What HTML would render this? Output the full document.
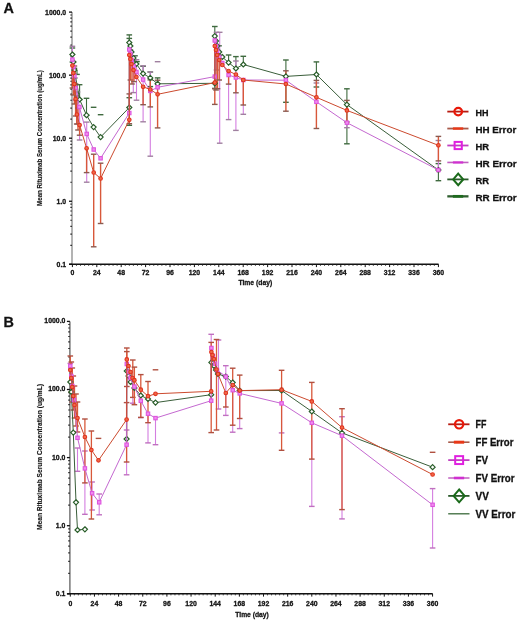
<!DOCTYPE html><html><head><meta charset="utf-8"><style>html,body{margin:0;padding:0;background:#fff;}svg{display:block;filter:blur(0.3px);} text{stroke:#111;stroke-width:0.28px;}</style></head><body>
<svg width="520" height="620" viewBox="0 0 520 620" font-family='"Liberation Sans", sans-serif' fill="#111">
<rect width="520" height="620" fill="#fff"/>
<text x="3.6" y="12.8" font-size="14.4" font-weight="bold">A</text>
<line x1="72" y1="12.1" x2="72" y2="264.3" stroke="#8a8a8a" stroke-width="1.3"/>
<line x1="69.2" y1="264.3" x2="438.6" y2="264.3" stroke="#111" stroke-width="1.5"/>
<line x1="69" y1="12.1" x2="72" y2="12.1" stroke="#111" stroke-width="1.3"/>
<text x="66.2" y="14.5" font-size="6.9" font-weight="bold" text-anchor="end">1000.0</text>
<line x1="70.4" y1="56.17" x2="71.8" y2="56.17" stroke="#111" stroke-width="1.2"/>
<line x1="70.4" y1="45.07" x2="71.8" y2="45.07" stroke="#111" stroke-width="1.2"/>
<line x1="70.4" y1="37.19" x2="71.8" y2="37.19" stroke="#111" stroke-width="1.2"/>
<line x1="70.4" y1="31.08" x2="71.8" y2="31.08" stroke="#111" stroke-width="1.2"/>
<line x1="70.4" y1="26.09" x2="71.8" y2="26.09" stroke="#111" stroke-width="1.2"/>
<line x1="70.4" y1="21.87" x2="71.8" y2="21.87" stroke="#111" stroke-width="1.2"/>
<line x1="70.4" y1="18.21" x2="71.8" y2="18.21" stroke="#111" stroke-width="1.2"/>
<line x1="70.4" y1="14.99" x2="71.8" y2="14.99" stroke="#111" stroke-width="1.2"/>
<line x1="69" y1="75.15" x2="72" y2="75.15" stroke="#111" stroke-width="1.3"/>
<text x="66.2" y="77.55" font-size="6.9" font-weight="bold" text-anchor="end">100.0</text>
<line x1="70.4" y1="119.22" x2="71.8" y2="119.22" stroke="#111" stroke-width="1.2"/>
<line x1="70.4" y1="108.12" x2="71.8" y2="108.12" stroke="#111" stroke-width="1.2"/>
<line x1="70.4" y1="100.24" x2="71.8" y2="100.24" stroke="#111" stroke-width="1.2"/>
<line x1="70.4" y1="94.13" x2="71.8" y2="94.13" stroke="#111" stroke-width="1.2"/>
<line x1="70.4" y1="89.14" x2="71.8" y2="89.14" stroke="#111" stroke-width="1.2"/>
<line x1="70.4" y1="84.92" x2="71.8" y2="84.92" stroke="#111" stroke-width="1.2"/>
<line x1="70.4" y1="81.26" x2="71.8" y2="81.26" stroke="#111" stroke-width="1.2"/>
<line x1="70.4" y1="78.04" x2="71.8" y2="78.04" stroke="#111" stroke-width="1.2"/>
<line x1="69" y1="138.2" x2="72" y2="138.2" stroke="#111" stroke-width="1.3"/>
<text x="66.2" y="140.6" font-size="6.9" font-weight="bold" text-anchor="end">10.0</text>
<line x1="70.4" y1="182.27" x2="71.8" y2="182.27" stroke="#111" stroke-width="1.2"/>
<line x1="70.4" y1="171.17" x2="71.8" y2="171.17" stroke="#111" stroke-width="1.2"/>
<line x1="70.4" y1="163.29" x2="71.8" y2="163.29" stroke="#111" stroke-width="1.2"/>
<line x1="70.4" y1="157.18" x2="71.8" y2="157.18" stroke="#111" stroke-width="1.2"/>
<line x1="70.4" y1="152.19" x2="71.8" y2="152.19" stroke="#111" stroke-width="1.2"/>
<line x1="70.4" y1="147.97" x2="71.8" y2="147.97" stroke="#111" stroke-width="1.2"/>
<line x1="70.4" y1="144.31" x2="71.8" y2="144.31" stroke="#111" stroke-width="1.2"/>
<line x1="70.4" y1="141.09" x2="71.8" y2="141.09" stroke="#111" stroke-width="1.2"/>
<line x1="69" y1="201.25" x2="72" y2="201.25" stroke="#111" stroke-width="1.3"/>
<text x="66.2" y="203.65" font-size="6.9" font-weight="bold" text-anchor="end">1.0</text>
<line x1="70.4" y1="245.32" x2="71.8" y2="245.32" stroke="#111" stroke-width="1.2"/>
<line x1="70.4" y1="234.22" x2="71.8" y2="234.22" stroke="#111" stroke-width="1.2"/>
<line x1="70.4" y1="226.34" x2="71.8" y2="226.34" stroke="#111" stroke-width="1.2"/>
<line x1="70.4" y1="220.23" x2="71.8" y2="220.23" stroke="#111" stroke-width="1.2"/>
<line x1="70.4" y1="215.24" x2="71.8" y2="215.24" stroke="#111" stroke-width="1.2"/>
<line x1="70.4" y1="211.02" x2="71.8" y2="211.02" stroke="#111" stroke-width="1.2"/>
<line x1="70.4" y1="207.36" x2="71.8" y2="207.36" stroke="#111" stroke-width="1.2"/>
<line x1="70.4" y1="204.14" x2="71.8" y2="204.14" stroke="#111" stroke-width="1.2"/>
<line x1="69" y1="264.3" x2="72" y2="264.3" stroke="#111" stroke-width="1.3"/>
<text x="66.2" y="266.7" font-size="6.9" font-weight="bold" text-anchor="end">0.1</text>
<line x1="72.4" y1="264.3" x2="72.4" y2="267.1" stroke="#111" stroke-width="1"/>
<text x="72.4" y="275.3" font-size="6.9" font-weight="bold" text-anchor="middle">0</text>
<line x1="76.47" y1="264.3" x2="76.47" y2="265.9" stroke="#222" stroke-width="0.8"/>
<line x1="80.53" y1="264.3" x2="80.53" y2="265.9" stroke="#222" stroke-width="0.8"/>
<line x1="84.6" y1="264.3" x2="84.6" y2="265.9" stroke="#222" stroke-width="0.8"/>
<line x1="88.67" y1="264.3" x2="88.67" y2="265.9" stroke="#222" stroke-width="0.8"/>
<line x1="92.73" y1="264.3" x2="92.73" y2="265.9" stroke="#222" stroke-width="0.8"/>
<line x1="96.8" y1="264.3" x2="96.8" y2="267.1" stroke="#111" stroke-width="1"/>
<text x="96.8" y="275.3" font-size="6.9" font-weight="bold" text-anchor="middle">24</text>
<line x1="100.87" y1="264.3" x2="100.87" y2="265.9" stroke="#222" stroke-width="0.8"/>
<line x1="104.93" y1="264.3" x2="104.93" y2="265.9" stroke="#222" stroke-width="0.8"/>
<line x1="109" y1="264.3" x2="109" y2="265.9" stroke="#222" stroke-width="0.8"/>
<line x1="113.07" y1="264.3" x2="113.07" y2="265.9" stroke="#222" stroke-width="0.8"/>
<line x1="117.13" y1="264.3" x2="117.13" y2="265.9" stroke="#222" stroke-width="0.8"/>
<line x1="121.2" y1="264.3" x2="121.2" y2="267.1" stroke="#111" stroke-width="1"/>
<text x="121.2" y="275.3" font-size="6.9" font-weight="bold" text-anchor="middle">48</text>
<line x1="125.27" y1="264.3" x2="125.27" y2="265.9" stroke="#222" stroke-width="0.8"/>
<line x1="129.34" y1="264.3" x2="129.34" y2="265.9" stroke="#222" stroke-width="0.8"/>
<line x1="133.4" y1="264.3" x2="133.4" y2="265.9" stroke="#222" stroke-width="0.8"/>
<line x1="137.47" y1="264.3" x2="137.47" y2="265.9" stroke="#222" stroke-width="0.8"/>
<line x1="141.54" y1="264.3" x2="141.54" y2="265.9" stroke="#222" stroke-width="0.8"/>
<line x1="145.6" y1="264.3" x2="145.6" y2="267.1" stroke="#111" stroke-width="1"/>
<text x="145.6" y="275.3" font-size="6.9" font-weight="bold" text-anchor="middle">72</text>
<line x1="149.67" y1="264.3" x2="149.67" y2="265.9" stroke="#222" stroke-width="0.8"/>
<line x1="153.74" y1="264.3" x2="153.74" y2="265.9" stroke="#222" stroke-width="0.8"/>
<line x1="157.8" y1="264.3" x2="157.8" y2="265.9" stroke="#222" stroke-width="0.8"/>
<line x1="161.87" y1="264.3" x2="161.87" y2="265.9" stroke="#222" stroke-width="0.8"/>
<line x1="165.94" y1="264.3" x2="165.94" y2="265.9" stroke="#222" stroke-width="0.8"/>
<line x1="170" y1="264.3" x2="170" y2="267.1" stroke="#111" stroke-width="1"/>
<text x="170" y="275.3" font-size="6.9" font-weight="bold" text-anchor="middle">96</text>
<line x1="174.07" y1="264.3" x2="174.07" y2="265.9" stroke="#222" stroke-width="0.8"/>
<line x1="178.14" y1="264.3" x2="178.14" y2="265.9" stroke="#222" stroke-width="0.8"/>
<line x1="182.2" y1="264.3" x2="182.2" y2="265.9" stroke="#222" stroke-width="0.8"/>
<line x1="186.27" y1="264.3" x2="186.27" y2="265.9" stroke="#222" stroke-width="0.8"/>
<line x1="190.34" y1="264.3" x2="190.34" y2="265.9" stroke="#222" stroke-width="0.8"/>
<line x1="194.4" y1="264.3" x2="194.4" y2="267.1" stroke="#111" stroke-width="1"/>
<text x="194.4" y="275.3" font-size="6.9" font-weight="bold" text-anchor="middle">120</text>
<line x1="198.47" y1="264.3" x2="198.47" y2="265.9" stroke="#222" stroke-width="0.8"/>
<line x1="202.54" y1="264.3" x2="202.54" y2="265.9" stroke="#222" stroke-width="0.8"/>
<line x1="206.6" y1="264.3" x2="206.6" y2="265.9" stroke="#222" stroke-width="0.8"/>
<line x1="210.67" y1="264.3" x2="210.67" y2="265.9" stroke="#222" stroke-width="0.8"/>
<line x1="214.74" y1="264.3" x2="214.74" y2="265.9" stroke="#222" stroke-width="0.8"/>
<line x1="218.8" y1="264.3" x2="218.8" y2="267.1" stroke="#111" stroke-width="1"/>
<text x="218.8" y="275.3" font-size="6.9" font-weight="bold" text-anchor="middle">144</text>
<line x1="222.87" y1="264.3" x2="222.87" y2="265.9" stroke="#222" stroke-width="0.8"/>
<line x1="226.94" y1="264.3" x2="226.94" y2="265.9" stroke="#222" stroke-width="0.8"/>
<line x1="231.01" y1="264.3" x2="231.01" y2="265.9" stroke="#222" stroke-width="0.8"/>
<line x1="235.07" y1="264.3" x2="235.07" y2="265.9" stroke="#222" stroke-width="0.8"/>
<line x1="239.14" y1="264.3" x2="239.14" y2="265.9" stroke="#222" stroke-width="0.8"/>
<line x1="243.21" y1="264.3" x2="243.21" y2="267.1" stroke="#111" stroke-width="1"/>
<text x="243.21" y="275.3" font-size="6.9" font-weight="bold" text-anchor="middle">168</text>
<line x1="247.27" y1="264.3" x2="247.27" y2="265.9" stroke="#222" stroke-width="0.8"/>
<line x1="251.34" y1="264.3" x2="251.34" y2="265.9" stroke="#222" stroke-width="0.8"/>
<line x1="255.41" y1="264.3" x2="255.41" y2="265.9" stroke="#222" stroke-width="0.8"/>
<line x1="259.47" y1="264.3" x2="259.47" y2="265.9" stroke="#222" stroke-width="0.8"/>
<line x1="263.54" y1="264.3" x2="263.54" y2="265.9" stroke="#222" stroke-width="0.8"/>
<line x1="267.61" y1="264.3" x2="267.61" y2="267.1" stroke="#111" stroke-width="1"/>
<text x="267.61" y="275.3" font-size="6.9" font-weight="bold" text-anchor="middle">192</text>
<line x1="271.67" y1="264.3" x2="271.67" y2="265.9" stroke="#222" stroke-width="0.8"/>
<line x1="275.74" y1="264.3" x2="275.74" y2="265.9" stroke="#222" stroke-width="0.8"/>
<line x1="279.81" y1="264.3" x2="279.81" y2="265.9" stroke="#222" stroke-width="0.8"/>
<line x1="283.87" y1="264.3" x2="283.87" y2="265.9" stroke="#222" stroke-width="0.8"/>
<line x1="287.94" y1="264.3" x2="287.94" y2="265.9" stroke="#222" stroke-width="0.8"/>
<line x1="292.01" y1="264.3" x2="292.01" y2="267.1" stroke="#111" stroke-width="1"/>
<text x="292.01" y="275.3" font-size="6.9" font-weight="bold" text-anchor="middle">216</text>
<line x1="296.07" y1="264.3" x2="296.07" y2="265.9" stroke="#222" stroke-width="0.8"/>
<line x1="300.14" y1="264.3" x2="300.14" y2="265.9" stroke="#222" stroke-width="0.8"/>
<line x1="304.21" y1="264.3" x2="304.21" y2="265.9" stroke="#222" stroke-width="0.8"/>
<line x1="308.27" y1="264.3" x2="308.27" y2="265.9" stroke="#222" stroke-width="0.8"/>
<line x1="312.34" y1="264.3" x2="312.34" y2="265.9" stroke="#222" stroke-width="0.8"/>
<line x1="316.41" y1="264.3" x2="316.41" y2="267.1" stroke="#111" stroke-width="1"/>
<text x="316.41" y="275.3" font-size="6.9" font-weight="bold" text-anchor="middle">240</text>
<line x1="320.47" y1="264.3" x2="320.47" y2="265.9" stroke="#222" stroke-width="0.8"/>
<line x1="324.54" y1="264.3" x2="324.54" y2="265.9" stroke="#222" stroke-width="0.8"/>
<line x1="328.61" y1="264.3" x2="328.61" y2="265.9" stroke="#222" stroke-width="0.8"/>
<line x1="332.68" y1="264.3" x2="332.68" y2="265.9" stroke="#222" stroke-width="0.8"/>
<line x1="336.74" y1="264.3" x2="336.74" y2="265.9" stroke="#222" stroke-width="0.8"/>
<line x1="340.81" y1="264.3" x2="340.81" y2="267.1" stroke="#111" stroke-width="1"/>
<text x="340.81" y="275.3" font-size="6.9" font-weight="bold" text-anchor="middle">264</text>
<line x1="344.88" y1="264.3" x2="344.88" y2="265.9" stroke="#222" stroke-width="0.8"/>
<line x1="348.94" y1="264.3" x2="348.94" y2="265.9" stroke="#222" stroke-width="0.8"/>
<line x1="353.01" y1="264.3" x2="353.01" y2="265.9" stroke="#222" stroke-width="0.8"/>
<line x1="357.08" y1="264.3" x2="357.08" y2="265.9" stroke="#222" stroke-width="0.8"/>
<line x1="361.14" y1="264.3" x2="361.14" y2="265.9" stroke="#222" stroke-width="0.8"/>
<line x1="365.21" y1="264.3" x2="365.21" y2="267.1" stroke="#111" stroke-width="1"/>
<text x="365.21" y="275.3" font-size="6.9" font-weight="bold" text-anchor="middle">288</text>
<line x1="369.28" y1="264.3" x2="369.28" y2="265.9" stroke="#222" stroke-width="0.8"/>
<line x1="373.34" y1="264.3" x2="373.34" y2="265.9" stroke="#222" stroke-width="0.8"/>
<line x1="377.41" y1="264.3" x2="377.41" y2="265.9" stroke="#222" stroke-width="0.8"/>
<line x1="381.48" y1="264.3" x2="381.48" y2="265.9" stroke="#222" stroke-width="0.8"/>
<line x1="385.54" y1="264.3" x2="385.54" y2="265.9" stroke="#222" stroke-width="0.8"/>
<line x1="389.61" y1="264.3" x2="389.61" y2="267.1" stroke="#111" stroke-width="1"/>
<text x="389.61" y="275.3" font-size="6.9" font-weight="bold" text-anchor="middle">312</text>
<line x1="393.68" y1="264.3" x2="393.68" y2="265.9" stroke="#222" stroke-width="0.8"/>
<line x1="397.74" y1="264.3" x2="397.74" y2="265.9" stroke="#222" stroke-width="0.8"/>
<line x1="401.81" y1="264.3" x2="401.81" y2="265.9" stroke="#222" stroke-width="0.8"/>
<line x1="405.88" y1="264.3" x2="405.88" y2="265.9" stroke="#222" stroke-width="0.8"/>
<line x1="409.94" y1="264.3" x2="409.94" y2="265.9" stroke="#222" stroke-width="0.8"/>
<line x1="414.01" y1="264.3" x2="414.01" y2="267.1" stroke="#111" stroke-width="1"/>
<text x="414.01" y="275.3" font-size="6.9" font-weight="bold" text-anchor="middle">336</text>
<line x1="418.08" y1="264.3" x2="418.08" y2="265.9" stroke="#222" stroke-width="0.8"/>
<line x1="422.14" y1="264.3" x2="422.14" y2="265.9" stroke="#222" stroke-width="0.8"/>
<line x1="426.21" y1="264.3" x2="426.21" y2="265.9" stroke="#222" stroke-width="0.8"/>
<line x1="430.28" y1="264.3" x2="430.28" y2="265.9" stroke="#222" stroke-width="0.8"/>
<line x1="434.35" y1="264.3" x2="434.35" y2="265.9" stroke="#222" stroke-width="0.8"/>
<line x1="438.41" y1="264.3" x2="438.41" y2="267.1" stroke="#111" stroke-width="1"/>
<text x="438.41" y="275.3" font-size="6.9" font-weight="bold" text-anchor="middle">360</text>
<text x="255.3" y="284.8" font-size="7.4" font-weight="bold" text-anchor="middle" textLength="33.8" lengthAdjust="spacingAndGlyphs">Time (day)</text>
<text transform="translate(42.1,138.1) rotate(-90)" font-size="6.6" font-weight="bold" style="stroke-width:0.12px" text-anchor="middle" textLength="135.6" lengthAdjust="spacingAndGlyphs">Mean Rituximab Serum Concentration (ug/mL)</text>
<line x1="72.4" y1="48" x2="72.4" y2="62" stroke="#3f6a3f" stroke-width="1.1" opacity="1"/>
<line x1="69.6" y1="48" x2="75.2" y2="48" stroke="#3f6a3f" stroke-width="1.4" opacity="1"/>
<line x1="69.6" y1="62" x2="75.2" y2="62" stroke="#3f6a3f" stroke-width="1.4" opacity="1"/>
<line x1="71.6" y1="68.3" x2="77.2" y2="68.3" stroke="#3f6a3f" stroke-width="1.4" opacity="1"/>
<line x1="77" y1="70" x2="77" y2="74.4" stroke="#3f6a3f" stroke-width="1.1" opacity="1"/>
<line x1="74.2" y1="74.4" x2="79.8" y2="74.4" stroke="#3f6a3f" stroke-width="1.4" opacity="1"/>
<line x1="79.6" y1="84.7" x2="79.6" y2="99.5" stroke="#3f6a3f" stroke-width="1.1" opacity="1"/>
<line x1="76.8" y1="84.7" x2="82.4" y2="84.7" stroke="#3f6a3f" stroke-width="1.4" opacity="1"/>
<line x1="76.8" y1="99.5" x2="82.4" y2="99.5" stroke="#3f6a3f" stroke-width="1.4" opacity="1"/>
<line x1="86.5" y1="98.3" x2="86.5" y2="115.2" stroke="#3f6a3f" stroke-width="1.1" opacity="1"/>
<line x1="83.7" y1="98.3" x2="89.3" y2="98.3" stroke="#3f6a3f" stroke-width="1.4" opacity="1"/>
<line x1="83.7" y1="115.2" x2="89.3" y2="115.2" stroke="#3f6a3f" stroke-width="1.4" opacity="1"/>
<line x1="90.8" y1="107.3" x2="96.4" y2="107.3" stroke="#3f6a3f" stroke-width="1.4" opacity="1"/>
<line x1="97.8" y1="114.7" x2="103.4" y2="114.7" stroke="#3f6a3f" stroke-width="1.4" opacity="1"/>
<line x1="129.3" y1="97.7" x2="129.3" y2="125.3" stroke="#3f6a3f" stroke-width="1.1" opacity="1"/>
<line x1="126.5" y1="97.7" x2="132.1" y2="97.7" stroke="#3f6a3f" stroke-width="1.4" opacity="1"/>
<line x1="126.5" y1="125.3" x2="132.1" y2="125.3" stroke="#3f6a3f" stroke-width="1.4" opacity="1"/>
<line x1="129.3" y1="34.9" x2="129.3" y2="42.6" stroke="#3f6a3f" stroke-width="1.1" opacity="1"/>
<line x1="126.5" y1="34.9" x2="132.1" y2="34.9" stroke="#3f6a3f" stroke-width="1.4" opacity="1"/>
<line x1="129.3" y1="38.4" x2="129.3" y2="42.6" stroke="#3f6a3f" stroke-width="1.1" opacity="1"/>
<line x1="126.5" y1="38.4" x2="132.1" y2="38.4" stroke="#3f6a3f" stroke-width="1.4" opacity="1"/>
<line x1="135" y1="55.8" x2="135" y2="64" stroke="#3f6a3f" stroke-width="1.1" opacity="1"/>
<line x1="132.2" y1="55.8" x2="137.8" y2="55.8" stroke="#3f6a3f" stroke-width="1.4" opacity="1"/>
<line x1="137" y1="61.6" x2="137" y2="64" stroke="#3f6a3f" stroke-width="1.1" opacity="1"/>
<line x1="134.2" y1="61.6" x2="139.8" y2="61.6" stroke="#3f6a3f" stroke-width="1.4" opacity="1"/>
<line x1="143.1" y1="66.3" x2="143.1" y2="73.6" stroke="#3f6a3f" stroke-width="1.1" opacity="1"/>
<line x1="140.3" y1="66.3" x2="145.9" y2="66.3" stroke="#3f6a3f" stroke-width="1.4" opacity="1"/>
<line x1="150.3" y1="72" x2="150.3" y2="86.6" stroke="#3f6a3f" stroke-width="1.1" opacity="1"/>
<line x1="147.5" y1="72" x2="153.1" y2="72" stroke="#3f6a3f" stroke-width="1.4" opacity="1"/>
<line x1="147.5" y1="86.6" x2="153.1" y2="86.6" stroke="#3f6a3f" stroke-width="1.4" opacity="1"/>
<line x1="157.6" y1="77.9" x2="157.6" y2="83.8" stroke="#3f6a3f" stroke-width="1.1" opacity="1"/>
<line x1="154.8" y1="77.9" x2="160.4" y2="77.9" stroke="#3f6a3f" stroke-width="1.4" opacity="1"/>
<line x1="214.8" y1="26.5" x2="214.8" y2="36.1" stroke="#3f6a3f" stroke-width="1.1" opacity="1"/>
<line x1="212" y1="26.5" x2="217.6" y2="26.5" stroke="#3f6a3f" stroke-width="1.4" opacity="1"/>
<line x1="214.8" y1="83.3" x2="214.8" y2="88.4" stroke="#3f6a3f" stroke-width="1.1" opacity="1"/>
<line x1="212" y1="88.4" x2="217.6" y2="88.4" stroke="#3f6a3f" stroke-width="1.4" opacity="1"/>
<line x1="219" y1="45.8" x2="219" y2="52" stroke="#3f6a3f" stroke-width="1.1" opacity="1"/>
<line x1="216.2" y1="45.8" x2="221.8" y2="45.8" stroke="#3f6a3f" stroke-width="1.4" opacity="1"/>
<line x1="228.6" y1="55" x2="228.6" y2="62.6" stroke="#3f6a3f" stroke-width="1.1" opacity="1"/>
<line x1="225.8" y1="55" x2="231.4" y2="55" stroke="#3f6a3f" stroke-width="1.4" opacity="1"/>
<line x1="235.9" y1="56.6" x2="235.9" y2="68.5" stroke="#3f6a3f" stroke-width="1.1" opacity="1"/>
<line x1="233.1" y1="56.6" x2="238.7" y2="56.6" stroke="#3f6a3f" stroke-width="1.4" opacity="1"/>
<line x1="243.3" y1="56.3" x2="243.3" y2="64.5" stroke="#3f6a3f" stroke-width="1.1" opacity="1"/>
<line x1="240.5" y1="56.3" x2="246.1" y2="56.3" stroke="#3f6a3f" stroke-width="1.4" opacity="1"/>
<line x1="285.9" y1="60" x2="285.9" y2="102.3" stroke="#3f6a3f" stroke-width="1.1" opacity="1"/>
<line x1="283.1" y1="60" x2="288.7" y2="60" stroke="#3f6a3f" stroke-width="1.4" opacity="1"/>
<line x1="283.1" y1="102.3" x2="288.7" y2="102.3" stroke="#3f6a3f" stroke-width="1.4" opacity="1"/>
<line x1="316.4" y1="61.9" x2="316.4" y2="87" stroke="#3f6a3f" stroke-width="1.1" opacity="1"/>
<line x1="313.6" y1="61.9" x2="319.2" y2="61.9" stroke="#3f6a3f" stroke-width="1.4" opacity="1"/>
<line x1="313.6" y1="87" x2="319.2" y2="87" stroke="#3f6a3f" stroke-width="1.4" opacity="1"/>
<line x1="346.9" y1="88.8" x2="346.9" y2="143.8" stroke="#3f6a3f" stroke-width="1.1" opacity="1"/>
<line x1="344.1" y1="88.8" x2="349.7" y2="88.8" stroke="#3f6a3f" stroke-width="1.4" opacity="1"/>
<line x1="344.1" y1="143.8" x2="349.7" y2="143.8" stroke="#3f6a3f" stroke-width="1.4" opacity="1"/>
<line x1="438.4" y1="163.6" x2="438.4" y2="180.7" stroke="#3f6a3f" stroke-width="1.1" opacity="1"/>
<line x1="435.6" y1="163.6" x2="441.2" y2="163.6" stroke="#3f6a3f" stroke-width="1.4" opacity="1"/>
<line x1="435.6" y1="180.7" x2="441.2" y2="180.7" stroke="#3f6a3f" stroke-width="1.4" opacity="1"/>
<line x1="72.4" y1="46.3" x2="72.4" y2="59.6" stroke="#d47ee0" stroke-width="1.1" opacity="1"/>
<line x1="69.6" y1="46.3" x2="75.2" y2="46.3" stroke="#a080a0" stroke-width="1.4" opacity="1"/>
<line x1="75" y1="78" x2="75" y2="100" stroke="#d47ee0" stroke-width="1.1" opacity="1"/>
<line x1="72.2" y1="78" x2="77.8" y2="78" stroke="#a080a0" stroke-width="1.4" opacity="1"/>
<line x1="72.2" y1="100" x2="77.8" y2="100" stroke="#a080a0" stroke-width="1.4" opacity="1"/>
<line x1="77.5" y1="92" x2="77.5" y2="124" stroke="#d47ee0" stroke-width="1.1" opacity="1"/>
<line x1="74.7" y1="92" x2="80.3" y2="92" stroke="#a080a0" stroke-width="1.4" opacity="1"/>
<line x1="74.7" y1="124" x2="80.3" y2="124" stroke="#a080a0" stroke-width="1.4" opacity="1"/>
<line x1="79.6" y1="107" x2="79.6" y2="140" stroke="#d47ee0" stroke-width="1.1" opacity="1"/>
<line x1="76.8" y1="140" x2="82.4" y2="140" stroke="#a080a0" stroke-width="1.4" opacity="1"/>
<line x1="86.7" y1="122.1" x2="86.7" y2="182.2" stroke="#d47ee0" stroke-width="1.1" opacity="1"/>
<line x1="83.9" y1="122.1" x2="89.5" y2="122.1" stroke="#a080a0" stroke-width="1.4" opacity="1"/>
<line x1="83.9" y1="182.2" x2="89.5" y2="182.2" stroke="#a080a0" stroke-width="1.4" opacity="1"/>
<line x1="133.3" y1="56.5" x2="133.3" y2="92.6" stroke="#d47ee0" stroke-width="1.1" opacity="1"/>
<line x1="130.5" y1="56.5" x2="136.1" y2="56.5" stroke="#a080a0" stroke-width="1.4" opacity="1"/>
<line x1="130.5" y1="92.6" x2="136.1" y2="92.6" stroke="#a080a0" stroke-width="1.4" opacity="1"/>
<line x1="136.5" y1="59.7" x2="136.5" y2="100.2" stroke="#d47ee0" stroke-width="1.1" opacity="1"/>
<line x1="133.7" y1="59.7" x2="139.3" y2="59.7" stroke="#a080a0" stroke-width="1.4" opacity="1"/>
<line x1="133.7" y1="100.2" x2="139.3" y2="100.2" stroke="#a080a0" stroke-width="1.4" opacity="1"/>
<line x1="143.1" y1="65.8" x2="143.1" y2="121.8" stroke="#d47ee0" stroke-width="1.1" opacity="1"/>
<line x1="140.3" y1="65.8" x2="145.9" y2="65.8" stroke="#a080a0" stroke-width="1.4" opacity="1"/>
<line x1="140.3" y1="121.8" x2="145.9" y2="121.8" stroke="#a080a0" stroke-width="1.4" opacity="1"/>
<line x1="150.3" y1="72" x2="150.3" y2="156.2" stroke="#d47ee0" stroke-width="1.1" opacity="1"/>
<line x1="147.5" y1="72" x2="153.1" y2="72" stroke="#a080a0" stroke-width="1.4" opacity="1"/>
<line x1="147.5" y1="156.2" x2="153.1" y2="156.2" stroke="#a080a0" stroke-width="1.4" opacity="1"/>
<line x1="154.8" y1="61.7" x2="160.4" y2="61.7" stroke="#a080a0" stroke-width="1.4" opacity="1"/>
<line x1="216.5" y1="32.3" x2="216.5" y2="70" stroke="#d47ee0" stroke-width="1.1" opacity="1"/>
<line x1="213.7" y1="32.3" x2="219.3" y2="32.3" stroke="#a080a0" stroke-width="1.4" opacity="1"/>
<line x1="213.7" y1="70" x2="219.3" y2="70" stroke="#a080a0" stroke-width="1.4" opacity="1"/>
<line x1="219.7" y1="32.3" x2="219.7" y2="143.2" stroke="#d47ee0" stroke-width="1.1" opacity="1"/>
<line x1="216.9" y1="32.3" x2="222.5" y2="32.3" stroke="#a080a0" stroke-width="1.4" opacity="1"/>
<line x1="216.9" y1="143.2" x2="222.5" y2="143.2" stroke="#a080a0" stroke-width="1.4" opacity="1"/>
<line x1="228.6" y1="75" x2="228.6" y2="119.6" stroke="#d47ee0" stroke-width="1.1" opacity="1"/>
<line x1="225.8" y1="119.6" x2="231.4" y2="119.6" stroke="#a080a0" stroke-width="1.4" opacity="1"/>
<line x1="235.9" y1="61" x2="235.9" y2="130.4" stroke="#d47ee0" stroke-width="1.1" opacity="1"/>
<line x1="233.1" y1="61" x2="238.7" y2="61" stroke="#a080a0" stroke-width="1.4" opacity="1"/>
<line x1="233.1" y1="130.4" x2="238.7" y2="130.4" stroke="#a080a0" stroke-width="1.4" opacity="1"/>
<line x1="243.3" y1="80" x2="243.3" y2="114.3" stroke="#d47ee0" stroke-width="1.1" opacity="1"/>
<line x1="240.5" y1="114.3" x2="246.1" y2="114.3" stroke="#a080a0" stroke-width="1.4" opacity="1"/>
<line x1="316.4" y1="83" x2="316.4" y2="101.8" stroke="#d47ee0" stroke-width="1.1" opacity="1"/>
<line x1="313.6" y1="83" x2="319.2" y2="83" stroke="#a080a0" stroke-width="1.4" opacity="1"/>
<line x1="346.9" y1="122.7" x2="346.9" y2="127.7" stroke="#d47ee0" stroke-width="1.1" opacity="1"/>
<line x1="344.1" y1="127.7" x2="349.7" y2="127.7" stroke="#a080a0" stroke-width="1.4" opacity="1"/>
<line x1="438.4" y1="140.5" x2="438.4" y2="170" stroke="#d47ee0" stroke-width="1.1" opacity="1"/>
<line x1="435.6" y1="140.5" x2="441.2" y2="140.5" stroke="#a080a0" stroke-width="1.4" opacity="1"/>
<line x1="72.4" y1="65.5" x2="72.4" y2="88" stroke="#d8583a" stroke-width="1.4" opacity="1"/>
<line x1="69.6" y1="88" x2="75.2" y2="88" stroke="#8a5a50" stroke-width="1.4" opacity="1"/>
<line x1="73.4" y1="62" x2="73.4" y2="95" stroke="#d8583a" stroke-width="1.4" opacity="1"/>
<line x1="70.6" y1="62" x2="76.2" y2="62" stroke="#8a5a50" stroke-width="1.4" opacity="1"/>
<line x1="70.6" y1="95" x2="76.2" y2="95" stroke="#8a5a50" stroke-width="1.4" opacity="1"/>
<line x1="74.4" y1="66" x2="74.4" y2="104" stroke="#d8583a" stroke-width="1.4" opacity="1"/>
<line x1="71.6" y1="66" x2="77.2" y2="66" stroke="#8a5a50" stroke-width="1.4" opacity="1"/>
<line x1="71.6" y1="104" x2="77.2" y2="104" stroke="#8a5a50" stroke-width="1.4" opacity="1"/>
<line x1="75.6" y1="84" x2="75.6" y2="116" stroke="#d8583a" stroke-width="1.4" opacity="1"/>
<line x1="72.8" y1="84" x2="78.4" y2="84" stroke="#8a5a50" stroke-width="1.4" opacity="1"/>
<line x1="72.8" y1="116" x2="78.4" y2="116" stroke="#8a5a50" stroke-width="1.4" opacity="1"/>
<line x1="76.7" y1="96" x2="76.7" y2="124" stroke="#d8583a" stroke-width="1.4" opacity="1"/>
<line x1="73.9" y1="96" x2="79.5" y2="96" stroke="#8a5a50" stroke-width="1.4" opacity="1"/>
<line x1="73.9" y1="124" x2="79.5" y2="124" stroke="#8a5a50" stroke-width="1.4" opacity="1"/>
<line x1="78" y1="108" x2="78" y2="130" stroke="#d8583a" stroke-width="1.4" opacity="1"/>
<line x1="75.2" y1="108" x2="80.8" y2="108" stroke="#8a5a50" stroke-width="1.4" opacity="1"/>
<line x1="75.2" y1="130" x2="80.8" y2="130" stroke="#8a5a50" stroke-width="1.4" opacity="1"/>
<line x1="79.6" y1="125" x2="79.6" y2="135.2" stroke="#d8583a" stroke-width="1.4" opacity="1"/>
<line x1="76.8" y1="135.2" x2="82.4" y2="135.2" stroke="#8a5a50" stroke-width="1.4" opacity="1"/>
<line x1="86.6" y1="148.3" x2="86.6" y2="172.6" stroke="#d8583a" stroke-width="1.4" opacity="1"/>
<line x1="83.8" y1="172.6" x2="89.4" y2="172.6" stroke="#8a5a50" stroke-width="1.4" opacity="1"/>
<line x1="93.7" y1="154.2" x2="93.7" y2="246.8" stroke="#d8583a" stroke-width="1.4" opacity="1"/>
<line x1="90.9" y1="154.2" x2="96.5" y2="154.2" stroke="#8a5a50" stroke-width="1.4" opacity="1"/>
<line x1="90.9" y1="246.8" x2="96.5" y2="246.8" stroke="#8a5a50" stroke-width="1.4" opacity="1"/>
<line x1="100.6" y1="163.2" x2="100.6" y2="223.5" stroke="#d8583a" stroke-width="1.4" opacity="1"/>
<line x1="97.8" y1="163.2" x2="103.4" y2="163.2" stroke="#8a5a50" stroke-width="1.4" opacity="1"/>
<line x1="97.8" y1="223.5" x2="103.4" y2="223.5" stroke="#8a5a50" stroke-width="1.4" opacity="1"/>
<line x1="129.3" y1="93.9" x2="129.3" y2="123.7" stroke="#d8583a" stroke-width="1.4" opacity="1"/>
<line x1="126.5" y1="93.9" x2="132.1" y2="93.9" stroke="#8a5a50" stroke-width="1.4" opacity="1"/>
<line x1="126.5" y1="123.7" x2="132.1" y2="123.7" stroke="#8a5a50" stroke-width="1.4" opacity="1"/>
<line x1="130.4" y1="50" x2="130.4" y2="80" stroke="#d8583a" stroke-width="1.4" opacity="1"/>
<line x1="127.6" y1="50" x2="133.2" y2="50" stroke="#8a5a50" stroke-width="1.4" opacity="1"/>
<line x1="127.6" y1="80" x2="133.2" y2="80" stroke="#8a5a50" stroke-width="1.4" opacity="1"/>
<line x1="132" y1="58" x2="132" y2="84" stroke="#d8583a" stroke-width="1.4" opacity="1"/>
<line x1="129.2" y1="58" x2="134.8" y2="58" stroke="#8a5a50" stroke-width="1.4" opacity="1"/>
<line x1="129.2" y1="84" x2="134.8" y2="84" stroke="#8a5a50" stroke-width="1.4" opacity="1"/>
<line x1="134" y1="70" x2="134" y2="81.6" stroke="#d8583a" stroke-width="1.4" opacity="1"/>
<line x1="131.2" y1="81.6" x2="136.8" y2="81.6" stroke="#8a5a50" stroke-width="1.4" opacity="1"/>
<line x1="143.1" y1="86.8" x2="143.1" y2="104.7" stroke="#d8583a" stroke-width="1.4" opacity="1"/>
<line x1="140.3" y1="104.7" x2="145.9" y2="104.7" stroke="#8a5a50" stroke-width="1.4" opacity="1"/>
<line x1="150.3" y1="79.9" x2="150.3" y2="106.9" stroke="#d8583a" stroke-width="1.4" opacity="1"/>
<line x1="147.5" y1="79.9" x2="153.1" y2="79.9" stroke="#8a5a50" stroke-width="1.4" opacity="1"/>
<line x1="147.5" y1="106.9" x2="153.1" y2="106.9" stroke="#8a5a50" stroke-width="1.4" opacity="1"/>
<line x1="157.6" y1="80.2" x2="157.6" y2="127.9" stroke="#d8583a" stroke-width="1.4" opacity="1"/>
<line x1="154.8" y1="80.2" x2="160.4" y2="80.2" stroke="#8a5a50" stroke-width="1.4" opacity="1"/>
<line x1="154.8" y1="127.9" x2="160.4" y2="127.9" stroke="#8a5a50" stroke-width="1.4" opacity="1"/>
<line x1="214.8" y1="88.7" x2="214.8" y2="104.4" stroke="#d8583a" stroke-width="1.4" opacity="1"/>
<line x1="212" y1="88.7" x2="217.6" y2="88.7" stroke="#8a5a50" stroke-width="1.4" opacity="1"/>
<line x1="212" y1="104.4" x2="217.6" y2="104.4" stroke="#8a5a50" stroke-width="1.4" opacity="1"/>
<line x1="216" y1="45" x2="216" y2="90" stroke="#d8583a" stroke-width="1.4" opacity="1"/>
<line x1="213.2" y1="45" x2="218.8" y2="45" stroke="#8a5a50" stroke-width="1.4" opacity="1"/>
<line x1="213.2" y1="90" x2="218.8" y2="90" stroke="#8a5a50" stroke-width="1.4" opacity="1"/>
<line x1="217.5" y1="52" x2="217.5" y2="88.7" stroke="#d8583a" stroke-width="1.4" opacity="1"/>
<line x1="214.7" y1="52" x2="220.3" y2="52" stroke="#8a5a50" stroke-width="1.4" opacity="1"/>
<line x1="214.7" y1="88.7" x2="220.3" y2="88.7" stroke="#8a5a50" stroke-width="1.4" opacity="1"/>
<line x1="219.2" y1="56" x2="219.2" y2="80" stroke="#d8583a" stroke-width="1.4" opacity="1"/>
<line x1="216.4" y1="56" x2="222" y2="56" stroke="#8a5a50" stroke-width="1.4" opacity="1"/>
<line x1="216.4" y1="80" x2="222" y2="80" stroke="#8a5a50" stroke-width="1.4" opacity="1"/>
<line x1="228.6" y1="71" x2="228.6" y2="84.1" stroke="#d8583a" stroke-width="1.4" opacity="1"/>
<line x1="225.8" y1="84.1" x2="231.4" y2="84.1" stroke="#8a5a50" stroke-width="1.4" opacity="1"/>
<line x1="235.9" y1="74.5" x2="235.9" y2="92.8" stroke="#d8583a" stroke-width="1.4" opacity="1"/>
<line x1="233.1" y1="92.8" x2="238.7" y2="92.8" stroke="#8a5a50" stroke-width="1.4" opacity="1"/>
<line x1="243.3" y1="80" x2="243.3" y2="105" stroke="#d8583a" stroke-width="1.4" opacity="1"/>
<line x1="240.5" y1="105" x2="246.1" y2="105" stroke="#8a5a50" stroke-width="1.4" opacity="1"/>
<line x1="285.9" y1="70.8" x2="285.9" y2="111.2" stroke="#d8583a" stroke-width="1.4" opacity="1"/>
<line x1="283.1" y1="70.8" x2="288.7" y2="70.8" stroke="#8a5a50" stroke-width="1.4" opacity="1"/>
<line x1="283.1" y1="111.2" x2="288.7" y2="111.2" stroke="#8a5a50" stroke-width="1.4" opacity="1"/>
<line x1="316.4" y1="80.4" x2="316.4" y2="128.5" stroke="#d8583a" stroke-width="1.4" opacity="1"/>
<line x1="313.6" y1="80.4" x2="319.2" y2="80.4" stroke="#8a5a50" stroke-width="1.4" opacity="1"/>
<line x1="313.6" y1="128.5" x2="319.2" y2="128.5" stroke="#8a5a50" stroke-width="1.4" opacity="1"/>
<line x1="346.9" y1="100.4" x2="346.9" y2="122" stroke="#d8583a" stroke-width="1.4" opacity="1"/>
<line x1="344.1" y1="100.4" x2="349.7" y2="100.4" stroke="#8a5a50" stroke-width="1.4" opacity="1"/>
<line x1="344.1" y1="122" x2="349.7" y2="122" stroke="#8a5a50" stroke-width="1.4" opacity="1"/>
<line x1="438.4" y1="136.4" x2="438.4" y2="160.9" stroke="#d8583a" stroke-width="1.4" opacity="1"/>
<line x1="435.6" y1="136.4" x2="441.2" y2="136.4" stroke="#8a5a50" stroke-width="1.4" opacity="1"/>
<line x1="435.6" y1="160.9" x2="441.2" y2="160.9" stroke="#8a5a50" stroke-width="1.4" opacity="1"/>
<path d="M72.4 54.5 L73.4 62 L74.4 70 L79.6 99.5 L86.5 115.2 L93.6 127.1 L100.6 137.1 L129.3 107.5 L129.3 42.6 L130.4 46 L131.5 52 L133.5 58 L136.4 64 L143.1 73.6 L150.3 77.9 L157.6 83.8 L214.8 83.3 L214.8 36.1 L216 41 L217.2 46 L219.2 52 L222.3 57 L228.6 62.6 L235.9 68.5 L243.3 64.5 L285.9 76.4 L316.4 74.5 L346.9 104.6 L438.4 170" fill="none" stroke="#3a5e3a" stroke-width="1.0"/>
<path d="M72.4 51.98 L74.92 54.5 L72.4 57.02 L69.88 54.5 Z" fill="#fff" stroke="#2a5e2a" stroke-width="1.2"/>
<path d="M73.4 59.48 L75.92 62 L73.4 64.52 L70.88 62 Z" fill="#fff" stroke="#2a5e2a" stroke-width="1.2"/>
<path d="M74.4 67.48 L76.92 70 L74.4 72.52 L71.88 70 Z" fill="#fff" stroke="#2a5e2a" stroke-width="1.2"/>
<path d="M79.6 96.98 L82.12 99.5 L79.6 102.02 L77.08 99.5 Z" fill="#fff" stroke="#2a5e2a" stroke-width="1.2"/>
<path d="M86.5 112.68 L89.02 115.2 L86.5 117.72 L83.98 115.2 Z" fill="#fff" stroke="#2a5e2a" stroke-width="1.2"/>
<path d="M93.6 124.58 L96.12 127.1 L93.6 129.62 L91.08 127.1 Z" fill="#fff" stroke="#2a5e2a" stroke-width="1.2"/>
<path d="M100.6 134.58 L103.12 137.1 L100.6 139.62 L98.08 137.1 Z" fill="#fff" stroke="#2a5e2a" stroke-width="1.2"/>
<path d="M129.3 104.98 L131.82 107.5 L129.3 110.02 L126.78 107.5 Z" fill="#fff" stroke="#2a5e2a" stroke-width="1.2"/>
<path d="M129.3 40.08 L131.82 42.6 L129.3 45.12 L126.78 42.6 Z" fill="#fff" stroke="#2a5e2a" stroke-width="1.2"/>
<path d="M130.4 43.48 L132.92 46 L130.4 48.52 L127.88 46 Z" fill="#fff" stroke="#2a5e2a" stroke-width="1.2"/>
<path d="M131.5 49.48 L134.02 52 L131.5 54.52 L128.98 52 Z" fill="#fff" stroke="#2a5e2a" stroke-width="1.2"/>
<path d="M133.5 55.48 L136.02 58 L133.5 60.52 L130.98 58 Z" fill="#fff" stroke="#2a5e2a" stroke-width="1.2"/>
<path d="M136.4 61.48 L138.92 64 L136.4 66.52 L133.88 64 Z" fill="#fff" stroke="#2a5e2a" stroke-width="1.2"/>
<path d="M143.1 71.08 L145.62 73.6 L143.1 76.12 L140.58 73.6 Z" fill="#fff" stroke="#2a5e2a" stroke-width="1.2"/>
<path d="M150.3 75.38 L152.82 77.9 L150.3 80.42 L147.78 77.9 Z" fill="#fff" stroke="#2a5e2a" stroke-width="1.2"/>
<path d="M157.6 81.28 L160.12 83.8 L157.6 86.32 L155.08 83.8 Z" fill="#fff" stroke="#2a5e2a" stroke-width="1.2"/>
<path d="M214.8 80.78 L217.32 83.3 L214.8 85.82 L212.28 83.3 Z" fill="#fff" stroke="#2a5e2a" stroke-width="1.2"/>
<path d="M214.8 33.58 L217.32 36.1 L214.8 38.62 L212.28 36.1 Z" fill="#fff" stroke="#2a5e2a" stroke-width="1.2"/>
<path d="M216 38.48 L218.52 41 L216 43.52 L213.48 41 Z" fill="#fff" stroke="#2a5e2a" stroke-width="1.2"/>
<path d="M217.2 43.48 L219.72 46 L217.2 48.52 L214.68 46 Z" fill="#fff" stroke="#2a5e2a" stroke-width="1.2"/>
<path d="M219.2 49.48 L221.72 52 L219.2 54.52 L216.68 52 Z" fill="#fff" stroke="#2a5e2a" stroke-width="1.2"/>
<path d="M222.3 54.48 L224.82 57 L222.3 59.52 L219.78 57 Z" fill="#fff" stroke="#2a5e2a" stroke-width="1.2"/>
<path d="M228.6 60.08 L231.12 62.6 L228.6 65.12 L226.08 62.6 Z" fill="#fff" stroke="#2a5e2a" stroke-width="1.2"/>
<path d="M235.9 65.98 L238.42 68.5 L235.9 71.02 L233.38 68.5 Z" fill="#fff" stroke="#2a5e2a" stroke-width="1.2"/>
<path d="M243.3 61.98 L245.82 64.5 L243.3 67.02 L240.78 64.5 Z" fill="#fff" stroke="#2a5e2a" stroke-width="1.2"/>
<path d="M285.9 73.88 L288.42 76.4 L285.9 78.92 L283.38 76.4 Z" fill="#fff" stroke="#2a5e2a" stroke-width="1.2"/>
<path d="M316.4 71.98 L318.92 74.5 L316.4 77.02 L313.88 74.5 Z" fill="#fff" stroke="#2a5e2a" stroke-width="1.2"/>
<path d="M346.9 102.08 L349.42 104.6 L346.9 107.12 L344.38 104.6 Z" fill="#fff" stroke="#2a5e2a" stroke-width="1.2"/>
<path d="M438.4 167.48 L440.92 170 L438.4 172.52 L435.88 170 Z" fill="#fff" stroke="#2a5e2a" stroke-width="1.2"/>
<path d="M72.4 59.6 L73.4 67 L74.4 76 L75.6 88 L79.4 107 L86.7 133.9 L93.7 149.5 L100.6 158.3 L129.3 113 L129.3 49.5 L130.4 54 L131.5 60 L133.5 66 L136.4 72 L143.1 79.6 L150.3 90.9 L157.6 87.3 L214.8 76.6 L214.8 40.5 L216 46 L217.2 51 L219.2 57 L222.3 63 L228.6 75 L235.9 77.5 L243.3 80 L285.9 80.2 L316.4 101.8 L346.9 122.7 L438.4 170" fill="none" stroke="#c468d0" stroke-width="1.0"/>
<rect x="70.7" y="57.9" width="3.4" height="3.4" fill="#f08cf0" stroke="#dd55dd" stroke-width="1.1"/>
<rect x="71.7" y="65.3" width="3.4" height="3.4" fill="#f08cf0" stroke="#dd55dd" stroke-width="1.1"/>
<rect x="72.7" y="74.3" width="3.4" height="3.4" fill="#f08cf0" stroke="#dd55dd" stroke-width="1.1"/>
<rect x="73.9" y="86.3" width="3.4" height="3.4" fill="#f08cf0" stroke="#dd55dd" stroke-width="1.1"/>
<rect x="77.7" y="105.3" width="3.4" height="3.4" fill="#f08cf0" stroke="#dd55dd" stroke-width="1.1"/>
<rect x="85" y="132.2" width="3.4" height="3.4" fill="#f08cf0" stroke="#dd55dd" stroke-width="1.1"/>
<rect x="92" y="147.8" width="3.4" height="3.4" fill="#f08cf0" stroke="#dd55dd" stroke-width="1.1"/>
<rect x="98.9" y="156.6" width="3.4" height="3.4" fill="#f08cf0" stroke="#dd55dd" stroke-width="1.1"/>
<rect x="127.6" y="111.3" width="3.4" height="3.4" fill="#f08cf0" stroke="#dd55dd" stroke-width="1.1"/>
<rect x="127.6" y="47.8" width="3.4" height="3.4" fill="#f08cf0" stroke="#dd55dd" stroke-width="1.1"/>
<rect x="128.7" y="52.3" width="3.4" height="3.4" fill="#f08cf0" stroke="#dd55dd" stroke-width="1.1"/>
<rect x="129.8" y="58.3" width="3.4" height="3.4" fill="#f08cf0" stroke="#dd55dd" stroke-width="1.1"/>
<rect x="131.8" y="64.3" width="3.4" height="3.4" fill="#f08cf0" stroke="#dd55dd" stroke-width="1.1"/>
<rect x="134.7" y="70.3" width="3.4" height="3.4" fill="#f08cf0" stroke="#dd55dd" stroke-width="1.1"/>
<rect x="141.4" y="77.9" width="3.4" height="3.4" fill="#f08cf0" stroke="#dd55dd" stroke-width="1.1"/>
<rect x="148.6" y="89.2" width="3.4" height="3.4" fill="#f08cf0" stroke="#dd55dd" stroke-width="1.1"/>
<rect x="155.9" y="85.6" width="3.4" height="3.4" fill="#f08cf0" stroke="#dd55dd" stroke-width="1.1"/>
<rect x="213.1" y="74.9" width="3.4" height="3.4" fill="#f08cf0" stroke="#dd55dd" stroke-width="1.1"/>
<rect x="213.1" y="38.8" width="3.4" height="3.4" fill="#f08cf0" stroke="#dd55dd" stroke-width="1.1"/>
<rect x="214.3" y="44.3" width="3.4" height="3.4" fill="#f08cf0" stroke="#dd55dd" stroke-width="1.1"/>
<rect x="215.5" y="49.3" width="3.4" height="3.4" fill="#f08cf0" stroke="#dd55dd" stroke-width="1.1"/>
<rect x="217.5" y="55.3" width="3.4" height="3.4" fill="#f08cf0" stroke="#dd55dd" stroke-width="1.1"/>
<rect x="220.6" y="61.3" width="3.4" height="3.4" fill="#f08cf0" stroke="#dd55dd" stroke-width="1.1"/>
<rect x="226.9" y="73.3" width="3.4" height="3.4" fill="#f08cf0" stroke="#dd55dd" stroke-width="1.1"/>
<rect x="234.2" y="75.8" width="3.4" height="3.4" fill="#f08cf0" stroke="#dd55dd" stroke-width="1.1"/>
<rect x="241.6" y="78.3" width="3.4" height="3.4" fill="#f08cf0" stroke="#dd55dd" stroke-width="1.1"/>
<rect x="284.2" y="78.5" width="3.4" height="3.4" fill="#f08cf0" stroke="#dd55dd" stroke-width="1.1"/>
<rect x="314.7" y="100.1" width="3.4" height="3.4" fill="#f08cf0" stroke="#dd55dd" stroke-width="1.1"/>
<rect x="345.2" y="121" width="3.4" height="3.4" fill="#f08cf0" stroke="#dd55dd" stroke-width="1.1"/>
<rect x="436.7" y="168.3" width="3.4" height="3.4" fill="#f08cf0" stroke="#dd55dd" stroke-width="1.1"/>
<path d="M72.4 65.5 L73.4 73 L74.4 84 L75.6 99 L76.9 114.5 L79.6 125 L86.6 148.3 L93.7 172.5 L100.6 178.5 L129.3 119.8 L129.3 55 L130.4 59 L131.5 64 L133.5 70 L136.4 77 L143.1 86.8 L150.3 89.5 L157.6 94.3 L214.8 82.6 L214.8 46 L216 50 L217.2 55 L219.2 60 L222.3 65 L228.6 71 L235.9 74.5 L243.3 80 L285.9 84 L316.4 97.3 L346.9 110.4 L438.4 145.3" fill="none" stroke="#cc4a2e" stroke-width="1.0"/>
<circle cx="72.4" cy="65.5" r="1.8" fill="#f06a48" stroke="#e0321e" stroke-width="1.1"/>
<circle cx="73.4" cy="73" r="1.8" fill="#f06a48" stroke="#e0321e" stroke-width="1.1"/>
<circle cx="74.4" cy="84" r="1.8" fill="#f06a48" stroke="#e0321e" stroke-width="1.1"/>
<circle cx="75.6" cy="99" r="1.8" fill="#f06a48" stroke="#e0321e" stroke-width="1.1"/>
<circle cx="76.9" cy="114.5" r="1.8" fill="#f06a48" stroke="#e0321e" stroke-width="1.1"/>
<circle cx="79.6" cy="125" r="1.8" fill="#f06a48" stroke="#e0321e" stroke-width="1.1"/>
<circle cx="86.6" cy="148.3" r="1.8" fill="#f06a48" stroke="#e0321e" stroke-width="1.1"/>
<circle cx="93.7" cy="172.5" r="1.8" fill="#f06a48" stroke="#e0321e" stroke-width="1.1"/>
<circle cx="100.6" cy="178.5" r="1.8" fill="#f06a48" stroke="#e0321e" stroke-width="1.1"/>
<circle cx="129.3" cy="119.8" r="1.8" fill="#f06a48" stroke="#e0321e" stroke-width="1.1"/>
<circle cx="129.3" cy="55" r="1.8" fill="#f06a48" stroke="#e0321e" stroke-width="1.1"/>
<circle cx="130.4" cy="59" r="1.8" fill="#f06a48" stroke="#e0321e" stroke-width="1.1"/>
<circle cx="131.5" cy="64" r="1.8" fill="#f06a48" stroke="#e0321e" stroke-width="1.1"/>
<circle cx="133.5" cy="70" r="1.8" fill="#f06a48" stroke="#e0321e" stroke-width="1.1"/>
<circle cx="136.4" cy="77" r="1.8" fill="#f06a48" stroke="#e0321e" stroke-width="1.1"/>
<circle cx="143.1" cy="86.8" r="1.8" fill="#f06a48" stroke="#e0321e" stroke-width="1.1"/>
<circle cx="150.3" cy="89.5" r="1.8" fill="#f06a48" stroke="#e0321e" stroke-width="1.1"/>
<circle cx="157.6" cy="94.3" r="1.8" fill="#f06a48" stroke="#e0321e" stroke-width="1.1"/>
<circle cx="214.8" cy="82.6" r="1.8" fill="#f06a48" stroke="#e0321e" stroke-width="1.1"/>
<circle cx="214.8" cy="46" r="1.8" fill="#f06a48" stroke="#e0321e" stroke-width="1.1"/>
<circle cx="216" cy="50" r="1.8" fill="#f06a48" stroke="#e0321e" stroke-width="1.1"/>
<circle cx="217.2" cy="55" r="1.8" fill="#f06a48" stroke="#e0321e" stroke-width="1.1"/>
<circle cx="219.2" cy="60" r="1.8" fill="#f06a48" stroke="#e0321e" stroke-width="1.1"/>
<circle cx="222.3" cy="65" r="1.8" fill="#f06a48" stroke="#e0321e" stroke-width="1.1"/>
<circle cx="228.6" cy="71" r="1.8" fill="#f06a48" stroke="#e0321e" stroke-width="1.1"/>
<circle cx="235.9" cy="74.5" r="1.8" fill="#f06a48" stroke="#e0321e" stroke-width="1.1"/>
<circle cx="243.3" cy="80" r="1.8" fill="#f06a48" stroke="#e0321e" stroke-width="1.1"/>
<circle cx="285.9" cy="84" r="1.8" fill="#f06a48" stroke="#e0321e" stroke-width="1.1"/>
<circle cx="316.4" cy="97.3" r="1.8" fill="#f06a48" stroke="#e0321e" stroke-width="1.1"/>
<circle cx="346.9" cy="110.4" r="1.8" fill="#f06a48" stroke="#e0321e" stroke-width="1.1"/>
<circle cx="438.4" cy="145.3" r="1.8" fill="#f06a48" stroke="#e0321e" stroke-width="1.1"/>
<line x1="447.3" y1="111.6" x2="468.5" y2="111.6" stroke="#b81a10" stroke-width="1.8"/>
<circle cx="458.2" cy="111.6" r="3.8" fill="none" stroke="#e81808" stroke-width="2.2"/>
<text x="475.4" y="115.64" font-size="9.6" font-weight="bold" textLength="13" lengthAdjust="spacingAndGlyphs">HH</text>
<line x1="447.3" y1="128.55" x2="468.5" y2="128.55" stroke="#a85a4a" stroke-width="1.8"/>
<line x1="452.9" y1="128.55" x2="463.2" y2="128.55" stroke="#e83818" stroke-width="2.4"/>
<text x="475.4" y="132.79" font-size="9.6" font-weight="bold" textLength="40.8" lengthAdjust="spacingAndGlyphs">HH Error</text>
<line x1="447.3" y1="145.5" x2="468.5" y2="145.5" stroke="#c040c0" stroke-width="1.8"/>
<rect x="454.6" y="141.9" width="7.2" height="7.2" fill="none" stroke="#e020e0" stroke-width="2"/>
<text x="475.4" y="149.94" font-size="9.6" font-weight="bold" textLength="13.6" lengthAdjust="spacingAndGlyphs">HR</text>
<line x1="447.3" y1="162.45" x2="468.5" y2="162.45" stroke="#c060c0" stroke-width="1.6"/>
<line x1="452.9" y1="162.45" x2="463.2" y2="162.45" stroke="#d030d0" stroke-width="2.2"/>
<text x="475.4" y="167.09" font-size="9.6" font-weight="bold" textLength="41.2" lengthAdjust="spacingAndGlyphs">HR Error</text>
<line x1="447.3" y1="179.4" x2="468.5" y2="179.4" stroke="#2a5a2a" stroke-width="1.8"/>
<path d="M458.2 173.6 L463.2 179.4 L458.2 185.2 L453.2 179.4 Z" fill="none" stroke="#1a6a1a" stroke-width="2"/>
<text x="475.4" y="184.24" font-size="9.6" font-weight="bold" textLength="13.6" lengthAdjust="spacingAndGlyphs">RR</text>
<line x1="447.3" y1="196.35" x2="468.5" y2="196.35" stroke="#2f5f2f" stroke-width="2.3"/>
<line x1="452.9" y1="196.35" x2="463.2" y2="196.35" stroke="#1f6a1f" stroke-width="2.8"/>
<text x="475.4" y="201.39" font-size="9.6" font-weight="bold" textLength="41.2" lengthAdjust="spacingAndGlyphs">RR Error</text>
<text x="3.6" y="326.6" font-size="14.4" font-weight="bold">B</text>
<line x1="69.9" y1="321.4" x2="69.9" y2="593.8" stroke="#606060" stroke-width="1.3"/>
<line x1="67.1" y1="593.8" x2="432.7" y2="593.8" stroke="#111" stroke-width="1.5"/>
<line x1="66.9" y1="321.4" x2="69.9" y2="321.4" stroke="#111" stroke-width="1.3"/>
<text x="65.4" y="323.3" font-size="6.9" font-weight="bold" text-anchor="end">1000.0</text>
<line x1="68.3" y1="369" x2="69.7" y2="369" stroke="#111" stroke-width="1.2"/>
<line x1="68.3" y1="357.01" x2="69.7" y2="357.01" stroke="#111" stroke-width="1.2"/>
<line x1="68.3" y1="348.5" x2="69.7" y2="348.5" stroke="#111" stroke-width="1.2"/>
<line x1="68.3" y1="341.9" x2="69.7" y2="341.9" stroke="#111" stroke-width="1.2"/>
<line x1="68.3" y1="336.51" x2="69.7" y2="336.51" stroke="#111" stroke-width="1.2"/>
<line x1="68.3" y1="331.95" x2="69.7" y2="331.95" stroke="#111" stroke-width="1.2"/>
<line x1="68.3" y1="328" x2="69.7" y2="328" stroke="#111" stroke-width="1.2"/>
<line x1="68.3" y1="324.52" x2="69.7" y2="324.52" stroke="#111" stroke-width="1.2"/>
<line x1="66.9" y1="389.5" x2="69.9" y2="389.5" stroke="#111" stroke-width="1.3"/>
<text x="65.4" y="391.4" font-size="6.9" font-weight="bold" text-anchor="end">100.0</text>
<line x1="68.3" y1="437.1" x2="69.7" y2="437.1" stroke="#111" stroke-width="1.2"/>
<line x1="68.3" y1="425.11" x2="69.7" y2="425.11" stroke="#111" stroke-width="1.2"/>
<line x1="68.3" y1="416.6" x2="69.7" y2="416.6" stroke="#111" stroke-width="1.2"/>
<line x1="68.3" y1="410" x2="69.7" y2="410" stroke="#111" stroke-width="1.2"/>
<line x1="68.3" y1="404.61" x2="69.7" y2="404.61" stroke="#111" stroke-width="1.2"/>
<line x1="68.3" y1="400.05" x2="69.7" y2="400.05" stroke="#111" stroke-width="1.2"/>
<line x1="68.3" y1="396.1" x2="69.7" y2="396.1" stroke="#111" stroke-width="1.2"/>
<line x1="68.3" y1="392.62" x2="69.7" y2="392.62" stroke="#111" stroke-width="1.2"/>
<line x1="66.9" y1="457.6" x2="69.9" y2="457.6" stroke="#111" stroke-width="1.3"/>
<text x="65.4" y="459.5" font-size="6.9" font-weight="bold" text-anchor="end">10.0</text>
<line x1="68.3" y1="505.2" x2="69.7" y2="505.2" stroke="#111" stroke-width="1.2"/>
<line x1="68.3" y1="493.21" x2="69.7" y2="493.21" stroke="#111" stroke-width="1.2"/>
<line x1="68.3" y1="484.7" x2="69.7" y2="484.7" stroke="#111" stroke-width="1.2"/>
<line x1="68.3" y1="478.1" x2="69.7" y2="478.1" stroke="#111" stroke-width="1.2"/>
<line x1="68.3" y1="472.71" x2="69.7" y2="472.71" stroke="#111" stroke-width="1.2"/>
<line x1="68.3" y1="468.15" x2="69.7" y2="468.15" stroke="#111" stroke-width="1.2"/>
<line x1="68.3" y1="464.2" x2="69.7" y2="464.2" stroke="#111" stroke-width="1.2"/>
<line x1="68.3" y1="460.72" x2="69.7" y2="460.72" stroke="#111" stroke-width="1.2"/>
<line x1="66.9" y1="525.7" x2="69.9" y2="525.7" stroke="#111" stroke-width="1.3"/>
<text x="65.4" y="527.6" font-size="6.9" font-weight="bold" text-anchor="end">1.0</text>
<line x1="68.3" y1="573.3" x2="69.7" y2="573.3" stroke="#111" stroke-width="1.2"/>
<line x1="68.3" y1="561.31" x2="69.7" y2="561.31" stroke="#111" stroke-width="1.2"/>
<line x1="68.3" y1="552.8" x2="69.7" y2="552.8" stroke="#111" stroke-width="1.2"/>
<line x1="68.3" y1="546.2" x2="69.7" y2="546.2" stroke="#111" stroke-width="1.2"/>
<line x1="68.3" y1="540.81" x2="69.7" y2="540.81" stroke="#111" stroke-width="1.2"/>
<line x1="68.3" y1="536.25" x2="69.7" y2="536.25" stroke="#111" stroke-width="1.2"/>
<line x1="68.3" y1="532.3" x2="69.7" y2="532.3" stroke="#111" stroke-width="1.2"/>
<line x1="68.3" y1="528.82" x2="69.7" y2="528.82" stroke="#111" stroke-width="1.2"/>
<line x1="66.9" y1="593.8" x2="69.9" y2="593.8" stroke="#111" stroke-width="1.3"/>
<text x="65.4" y="595.7" font-size="6.9" font-weight="bold" text-anchor="end">0.1</text>
<line x1="70.3" y1="593.8" x2="70.3" y2="596.6" stroke="#111" stroke-width="1"/>
<text x="70.3" y="605.7" font-size="6.9" font-weight="bold" text-anchor="middle">0</text>
<line x1="74.33" y1="593.8" x2="74.33" y2="595.4" stroke="#222" stroke-width="0.8"/>
<line x1="78.35" y1="593.8" x2="78.35" y2="595.4" stroke="#222" stroke-width="0.8"/>
<line x1="82.38" y1="593.8" x2="82.38" y2="595.4" stroke="#222" stroke-width="0.8"/>
<line x1="86.4" y1="593.8" x2="86.4" y2="595.4" stroke="#222" stroke-width="0.8"/>
<line x1="90.43" y1="593.8" x2="90.43" y2="595.4" stroke="#222" stroke-width="0.8"/>
<line x1="94.45" y1="593.8" x2="94.45" y2="596.6" stroke="#111" stroke-width="1"/>
<text x="94.45" y="605.7" font-size="6.9" font-weight="bold" text-anchor="middle">24</text>
<line x1="98.48" y1="593.8" x2="98.48" y2="595.4" stroke="#222" stroke-width="0.8"/>
<line x1="102.5" y1="593.8" x2="102.5" y2="595.4" stroke="#222" stroke-width="0.8"/>
<line x1="106.53" y1="593.8" x2="106.53" y2="595.4" stroke="#222" stroke-width="0.8"/>
<line x1="110.55" y1="593.8" x2="110.55" y2="595.4" stroke="#222" stroke-width="0.8"/>
<line x1="114.58" y1="593.8" x2="114.58" y2="595.4" stroke="#222" stroke-width="0.8"/>
<line x1="118.6" y1="593.8" x2="118.6" y2="596.6" stroke="#111" stroke-width="1"/>
<text x="118.6" y="605.7" font-size="6.9" font-weight="bold" text-anchor="middle">48</text>
<line x1="122.63" y1="593.8" x2="122.63" y2="595.4" stroke="#222" stroke-width="0.8"/>
<line x1="126.65" y1="593.8" x2="126.65" y2="595.4" stroke="#222" stroke-width="0.8"/>
<line x1="130.68" y1="593.8" x2="130.68" y2="595.4" stroke="#222" stroke-width="0.8"/>
<line x1="134.7" y1="593.8" x2="134.7" y2="595.4" stroke="#222" stroke-width="0.8"/>
<line x1="138.73" y1="593.8" x2="138.73" y2="595.4" stroke="#222" stroke-width="0.8"/>
<line x1="142.75" y1="593.8" x2="142.75" y2="596.6" stroke="#111" stroke-width="1"/>
<text x="142.75" y="605.7" font-size="6.9" font-weight="bold" text-anchor="middle">72</text>
<line x1="146.78" y1="593.8" x2="146.78" y2="595.4" stroke="#222" stroke-width="0.8"/>
<line x1="150.8" y1="593.8" x2="150.8" y2="595.4" stroke="#222" stroke-width="0.8"/>
<line x1="154.83" y1="593.8" x2="154.83" y2="595.4" stroke="#222" stroke-width="0.8"/>
<line x1="158.85" y1="593.8" x2="158.85" y2="595.4" stroke="#222" stroke-width="0.8"/>
<line x1="162.88" y1="593.8" x2="162.88" y2="595.4" stroke="#222" stroke-width="0.8"/>
<line x1="166.9" y1="593.8" x2="166.9" y2="596.6" stroke="#111" stroke-width="1"/>
<text x="166.9" y="605.7" font-size="6.9" font-weight="bold" text-anchor="middle">96</text>
<line x1="170.93" y1="593.8" x2="170.93" y2="595.4" stroke="#222" stroke-width="0.8"/>
<line x1="174.96" y1="593.8" x2="174.96" y2="595.4" stroke="#222" stroke-width="0.8"/>
<line x1="178.98" y1="593.8" x2="178.98" y2="595.4" stroke="#222" stroke-width="0.8"/>
<line x1="183.01" y1="593.8" x2="183.01" y2="595.4" stroke="#222" stroke-width="0.8"/>
<line x1="187.03" y1="593.8" x2="187.03" y2="595.4" stroke="#222" stroke-width="0.8"/>
<line x1="191.06" y1="593.8" x2="191.06" y2="596.6" stroke="#111" stroke-width="1"/>
<text x="191.06" y="605.7" font-size="6.9" font-weight="bold" text-anchor="middle">120</text>
<line x1="195.08" y1="593.8" x2="195.08" y2="595.4" stroke="#222" stroke-width="0.8"/>
<line x1="199.11" y1="593.8" x2="199.11" y2="595.4" stroke="#222" stroke-width="0.8"/>
<line x1="203.13" y1="593.8" x2="203.13" y2="595.4" stroke="#222" stroke-width="0.8"/>
<line x1="207.16" y1="593.8" x2="207.16" y2="595.4" stroke="#222" stroke-width="0.8"/>
<line x1="211.18" y1="593.8" x2="211.18" y2="595.4" stroke="#222" stroke-width="0.8"/>
<line x1="215.21" y1="593.8" x2="215.21" y2="596.6" stroke="#111" stroke-width="1"/>
<text x="215.21" y="605.7" font-size="6.9" font-weight="bold" text-anchor="middle">144</text>
<line x1="219.23" y1="593.8" x2="219.23" y2="595.4" stroke="#222" stroke-width="0.8"/>
<line x1="223.26" y1="593.8" x2="223.26" y2="595.4" stroke="#222" stroke-width="0.8"/>
<line x1="227.28" y1="593.8" x2="227.28" y2="595.4" stroke="#222" stroke-width="0.8"/>
<line x1="231.31" y1="593.8" x2="231.31" y2="595.4" stroke="#222" stroke-width="0.8"/>
<line x1="235.33" y1="593.8" x2="235.33" y2="595.4" stroke="#222" stroke-width="0.8"/>
<line x1="239.36" y1="593.8" x2="239.36" y2="596.6" stroke="#111" stroke-width="1"/>
<text x="239.36" y="605.7" font-size="6.9" font-weight="bold" text-anchor="middle">168</text>
<line x1="243.38" y1="593.8" x2="243.38" y2="595.4" stroke="#222" stroke-width="0.8"/>
<line x1="247.41" y1="593.8" x2="247.41" y2="595.4" stroke="#222" stroke-width="0.8"/>
<line x1="251.43" y1="593.8" x2="251.43" y2="595.4" stroke="#222" stroke-width="0.8"/>
<line x1="255.46" y1="593.8" x2="255.46" y2="595.4" stroke="#222" stroke-width="0.8"/>
<line x1="259.48" y1="593.8" x2="259.48" y2="595.4" stroke="#222" stroke-width="0.8"/>
<line x1="263.51" y1="593.8" x2="263.51" y2="596.6" stroke="#111" stroke-width="1"/>
<text x="263.51" y="605.7" font-size="6.9" font-weight="bold" text-anchor="middle">192</text>
<line x1="267.53" y1="593.8" x2="267.53" y2="595.4" stroke="#222" stroke-width="0.8"/>
<line x1="271.56" y1="593.8" x2="271.56" y2="595.4" stroke="#222" stroke-width="0.8"/>
<line x1="275.59" y1="593.8" x2="275.59" y2="595.4" stroke="#222" stroke-width="0.8"/>
<line x1="279.61" y1="593.8" x2="279.61" y2="595.4" stroke="#222" stroke-width="0.8"/>
<line x1="283.64" y1="593.8" x2="283.64" y2="595.4" stroke="#222" stroke-width="0.8"/>
<line x1="287.66" y1="593.8" x2="287.66" y2="596.6" stroke="#111" stroke-width="1"/>
<text x="287.66" y="605.7" font-size="6.9" font-weight="bold" text-anchor="middle">216</text>
<line x1="291.69" y1="593.8" x2="291.69" y2="595.4" stroke="#222" stroke-width="0.8"/>
<line x1="295.71" y1="593.8" x2="295.71" y2="595.4" stroke="#222" stroke-width="0.8"/>
<line x1="299.74" y1="593.8" x2="299.74" y2="595.4" stroke="#222" stroke-width="0.8"/>
<line x1="303.76" y1="593.8" x2="303.76" y2="595.4" stroke="#222" stroke-width="0.8"/>
<line x1="307.79" y1="593.8" x2="307.79" y2="595.4" stroke="#222" stroke-width="0.8"/>
<line x1="311.81" y1="593.8" x2="311.81" y2="596.6" stroke="#111" stroke-width="1"/>
<text x="311.81" y="605.7" font-size="6.9" font-weight="bold" text-anchor="middle">240</text>
<line x1="315.84" y1="593.8" x2="315.84" y2="595.4" stroke="#222" stroke-width="0.8"/>
<line x1="319.86" y1="593.8" x2="319.86" y2="595.4" stroke="#222" stroke-width="0.8"/>
<line x1="323.89" y1="593.8" x2="323.89" y2="595.4" stroke="#222" stroke-width="0.8"/>
<line x1="327.91" y1="593.8" x2="327.91" y2="595.4" stroke="#222" stroke-width="0.8"/>
<line x1="331.94" y1="593.8" x2="331.94" y2="595.4" stroke="#222" stroke-width="0.8"/>
<line x1="335.96" y1="593.8" x2="335.96" y2="596.6" stroke="#111" stroke-width="1"/>
<text x="335.96" y="605.7" font-size="6.9" font-weight="bold" text-anchor="middle">264</text>
<line x1="339.99" y1="593.8" x2="339.99" y2="595.4" stroke="#222" stroke-width="0.8"/>
<line x1="344.01" y1="593.8" x2="344.01" y2="595.4" stroke="#222" stroke-width="0.8"/>
<line x1="348.04" y1="593.8" x2="348.04" y2="595.4" stroke="#222" stroke-width="0.8"/>
<line x1="352.06" y1="593.8" x2="352.06" y2="595.4" stroke="#222" stroke-width="0.8"/>
<line x1="356.09" y1="593.8" x2="356.09" y2="595.4" stroke="#222" stroke-width="0.8"/>
<line x1="360.11" y1="593.8" x2="360.11" y2="596.6" stroke="#111" stroke-width="1"/>
<text x="360.11" y="605.7" font-size="6.9" font-weight="bold" text-anchor="middle">288</text>
<line x1="364.14" y1="593.8" x2="364.14" y2="595.4" stroke="#222" stroke-width="0.8"/>
<line x1="368.16" y1="593.8" x2="368.16" y2="595.4" stroke="#222" stroke-width="0.8"/>
<line x1="372.19" y1="593.8" x2="372.19" y2="595.4" stroke="#222" stroke-width="0.8"/>
<line x1="376.22" y1="593.8" x2="376.22" y2="595.4" stroke="#222" stroke-width="0.8"/>
<line x1="380.24" y1="593.8" x2="380.24" y2="595.4" stroke="#222" stroke-width="0.8"/>
<line x1="384.27" y1="593.8" x2="384.27" y2="596.6" stroke="#111" stroke-width="1"/>
<text x="384.27" y="605.7" font-size="6.9" font-weight="bold" text-anchor="middle">312</text>
<line x1="388.29" y1="593.8" x2="388.29" y2="595.4" stroke="#222" stroke-width="0.8"/>
<line x1="392.32" y1="593.8" x2="392.32" y2="595.4" stroke="#222" stroke-width="0.8"/>
<line x1="396.34" y1="593.8" x2="396.34" y2="595.4" stroke="#222" stroke-width="0.8"/>
<line x1="400.37" y1="593.8" x2="400.37" y2="595.4" stroke="#222" stroke-width="0.8"/>
<line x1="404.39" y1="593.8" x2="404.39" y2="595.4" stroke="#222" stroke-width="0.8"/>
<line x1="408.42" y1="593.8" x2="408.42" y2="596.6" stroke="#111" stroke-width="1"/>
<text x="408.42" y="605.7" font-size="6.9" font-weight="bold" text-anchor="middle">336</text>
<line x1="412.44" y1="593.8" x2="412.44" y2="595.4" stroke="#222" stroke-width="0.8"/>
<line x1="416.47" y1="593.8" x2="416.47" y2="595.4" stroke="#222" stroke-width="0.8"/>
<line x1="420.49" y1="593.8" x2="420.49" y2="595.4" stroke="#222" stroke-width="0.8"/>
<line x1="424.52" y1="593.8" x2="424.52" y2="595.4" stroke="#222" stroke-width="0.8"/>
<line x1="428.54" y1="593.8" x2="428.54" y2="595.4" stroke="#222" stroke-width="0.8"/>
<line x1="432.57" y1="593.8" x2="432.57" y2="596.6" stroke="#111" stroke-width="1"/>
<text x="432.57" y="605.7" font-size="6.9" font-weight="bold" text-anchor="middle">360</text>
<text x="252" y="616.5" font-size="7.4" font-weight="bold" text-anchor="middle" textLength="33.4" lengthAdjust="spacingAndGlyphs">Time (day)</text>
<text transform="translate(41.7,457) rotate(-90)" font-size="6.6" font-weight="bold" style="stroke-width:0.12px" text-anchor="middle" textLength="146" lengthAdjust="spacingAndGlyphs">Mean Rituximab Serum Concentration (ug/mL)</text>
<line x1="70.3" y1="363.4" x2="70.3" y2="366" stroke="#d47ee0" stroke-width="1.1" opacity="1"/>
<line x1="67.5" y1="363.4" x2="73.1" y2="363.4" stroke="#c070c0" stroke-width="1.4" opacity="1"/>
<line x1="77.5" y1="448" x2="77.5" y2="471.3" stroke="#d47ee0" stroke-width="1.1" opacity="1"/>
<line x1="74.7" y1="448" x2="80.3" y2="448" stroke="#c070c0" stroke-width="1.4" opacity="1"/>
<line x1="74.7" y1="471.3" x2="80.3" y2="471.3" stroke="#c070c0" stroke-width="1.4" opacity="1"/>
<line x1="84.9" y1="451" x2="84.9" y2="514.3" stroke="#d47ee0" stroke-width="1.1" opacity="1"/>
<line x1="82.1" y1="451" x2="87.7" y2="451" stroke="#c070c0" stroke-width="1.4" opacity="1"/>
<line x1="82.1" y1="514.3" x2="87.7" y2="514.3" stroke="#c070c0" stroke-width="1.4" opacity="1"/>
<line x1="92.1" y1="482" x2="92.1" y2="510" stroke="#d47ee0" stroke-width="1.1" opacity="1"/>
<line x1="89.3" y1="482" x2="94.9" y2="482" stroke="#c070c0" stroke-width="1.4" opacity="1"/>
<line x1="89.3" y1="510" x2="94.9" y2="510" stroke="#c070c0" stroke-width="1.4" opacity="1"/>
<line x1="99.2" y1="494" x2="99.2" y2="514.8" stroke="#d47ee0" stroke-width="1.1" opacity="1"/>
<line x1="96.4" y1="494" x2="102" y2="494" stroke="#c070c0" stroke-width="1.4" opacity="1"/>
<line x1="96.4" y1="514.8" x2="102" y2="514.8" stroke="#c070c0" stroke-width="1.4" opacity="1"/>
<line x1="126.6" y1="430" x2="126.6" y2="474.8" stroke="#d47ee0" stroke-width="1.1" opacity="1"/>
<line x1="123.8" y1="430" x2="129.4" y2="430" stroke="#c070c0" stroke-width="1.4" opacity="1"/>
<line x1="123.8" y1="474.8" x2="129.4" y2="474.8" stroke="#c070c0" stroke-width="1.4" opacity="1"/>
<line x1="132.8" y1="386.6" x2="132.8" y2="403.2" stroke="#d47ee0" stroke-width="1.1" opacity="1"/>
<line x1="130" y1="403.2" x2="135.6" y2="403.2" stroke="#c070c0" stroke-width="1.4" opacity="1"/>
<line x1="140.8" y1="400.8" x2="140.8" y2="417.6" stroke="#d47ee0" stroke-width="1.1" opacity="1"/>
<line x1="138" y1="417.6" x2="143.6" y2="417.6" stroke="#c070c0" stroke-width="1.4" opacity="1"/>
<line x1="148" y1="413.7" x2="148" y2="442.9" stroke="#d47ee0" stroke-width="1.1" opacity="1"/>
<line x1="145.2" y1="442.9" x2="150.8" y2="442.9" stroke="#c070c0" stroke-width="1.4" opacity="1"/>
<line x1="155.5" y1="418.1" x2="155.5" y2="444.7" stroke="#d47ee0" stroke-width="1.1" opacity="1"/>
<line x1="152.7" y1="444.7" x2="158.3" y2="444.7" stroke="#c070c0" stroke-width="1.4" opacity="1"/>
<line x1="211.2" y1="334.3" x2="211.2" y2="400.7" stroke="#d47ee0" stroke-width="1.1" opacity="1"/>
<line x1="208.4" y1="334.3" x2="214" y2="334.3" stroke="#c070c0" stroke-width="1.4" opacity="1"/>
<line x1="218.5" y1="340" x2="218.5" y2="409" stroke="#d47ee0" stroke-width="1.1" opacity="1"/>
<line x1="215.7" y1="340" x2="221.3" y2="340" stroke="#c070c0" stroke-width="1.4" opacity="1"/>
<line x1="215.7" y1="409" x2="221.3" y2="409" stroke="#c070c0" stroke-width="1.4" opacity="1"/>
<line x1="225.8" y1="365.7" x2="225.8" y2="415.4" stroke="#d47ee0" stroke-width="1.1" opacity="1"/>
<line x1="223" y1="365.7" x2="228.6" y2="365.7" stroke="#c070c0" stroke-width="1.4" opacity="1"/>
<line x1="223" y1="415.4" x2="228.6" y2="415.4" stroke="#c070c0" stroke-width="1.4" opacity="1"/>
<line x1="232.7" y1="390.2" x2="232.7" y2="432.2" stroke="#d47ee0" stroke-width="1.1" opacity="1"/>
<line x1="229.9" y1="432.2" x2="235.5" y2="432.2" stroke="#c070c0" stroke-width="1.4" opacity="1"/>
<line x1="239.7" y1="393.4" x2="239.7" y2="428.6" stroke="#d47ee0" stroke-width="1.1" opacity="1"/>
<line x1="236.9" y1="428.6" x2="242.5" y2="428.6" stroke="#c070c0" stroke-width="1.4" opacity="1"/>
<line x1="281.6" y1="403.4" x2="281.6" y2="432.9" stroke="#d47ee0" stroke-width="1.1" opacity="1"/>
<line x1="278.8" y1="432.9" x2="284.4" y2="432.9" stroke="#c070c0" stroke-width="1.4" opacity="1"/>
<line x1="311.8" y1="422.8" x2="311.8" y2="506.4" stroke="#d47ee0" stroke-width="1.1" opacity="1"/>
<line x1="309" y1="506.4" x2="314.6" y2="506.4" stroke="#c070c0" stroke-width="1.4" opacity="1"/>
<line x1="342" y1="416.7" x2="342" y2="518.9" stroke="#d47ee0" stroke-width="1.1" opacity="1"/>
<line x1="339.2" y1="416.7" x2="344.8" y2="416.7" stroke="#c070c0" stroke-width="1.4" opacity="1"/>
<line x1="339.2" y1="518.9" x2="344.8" y2="518.9" stroke="#c070c0" stroke-width="1.4" opacity="1"/>
<line x1="432.6" y1="488.6" x2="432.6" y2="548" stroke="#d47ee0" stroke-width="1.1" opacity="1"/>
<line x1="429.8" y1="488.6" x2="435.4" y2="488.6" stroke="#c070c0" stroke-width="1.4" opacity="1"/>
<line x1="429.8" y1="548" x2="435.4" y2="548" stroke="#c070c0" stroke-width="1.4" opacity="1"/>
<line x1="70.3" y1="356" x2="70.3" y2="370" stroke="#d8583a" stroke-width="1.3" opacity="1"/>
<line x1="67.5" y1="356" x2="73.1" y2="356" stroke="#b05040" stroke-width="1.4" opacity="1"/>
<line x1="71.3" y1="362" x2="71.3" y2="392" stroke="#d8583a" stroke-width="1.3" opacity="1"/>
<line x1="68.5" y1="362" x2="74.1" y2="362" stroke="#b05040" stroke-width="1.4" opacity="1"/>
<line x1="68.5" y1="392" x2="74.1" y2="392" stroke="#b05040" stroke-width="1.4" opacity="1"/>
<line x1="72.3" y1="368" x2="72.3" y2="402" stroke="#d8583a" stroke-width="1.3" opacity="1"/>
<line x1="69.5" y1="368" x2="75.1" y2="368" stroke="#b05040" stroke-width="1.4" opacity="1"/>
<line x1="69.5" y1="402" x2="75.1" y2="402" stroke="#b05040" stroke-width="1.4" opacity="1"/>
<line x1="73.3" y1="376" x2="73.3" y2="410" stroke="#d8583a" stroke-width="1.3" opacity="1"/>
<line x1="70.5" y1="376" x2="76.1" y2="376" stroke="#b05040" stroke-width="1.4" opacity="1"/>
<line x1="70.5" y1="410" x2="76.1" y2="410" stroke="#b05040" stroke-width="1.4" opacity="1"/>
<line x1="74.5" y1="386" x2="74.5" y2="418" stroke="#d8583a" stroke-width="1.3" opacity="1"/>
<line x1="71.7" y1="386" x2="77.3" y2="386" stroke="#b05040" stroke-width="1.4" opacity="1"/>
<line x1="71.7" y1="418" x2="77.3" y2="418" stroke="#b05040" stroke-width="1.4" opacity="1"/>
<line x1="76" y1="394" x2="76" y2="426" stroke="#d8583a" stroke-width="1.3" opacity="1"/>
<line x1="73.2" y1="394" x2="78.8" y2="394" stroke="#b05040" stroke-width="1.4" opacity="1"/>
<line x1="73.2" y1="426" x2="78.8" y2="426" stroke="#b05040" stroke-width="1.4" opacity="1"/>
<line x1="77.5" y1="402" x2="77.5" y2="432" stroke="#d8583a" stroke-width="1.3" opacity="1"/>
<line x1="74.7" y1="402" x2="80.3" y2="402" stroke="#b05040" stroke-width="1.4" opacity="1"/>
<line x1="74.7" y1="432" x2="80.3" y2="432" stroke="#b05040" stroke-width="1.4" opacity="1"/>
<line x1="84.9" y1="419" x2="84.9" y2="482.9" stroke="#d8583a" stroke-width="1.3" opacity="1"/>
<line x1="82.1" y1="419" x2="87.7" y2="419" stroke="#b05040" stroke-width="1.4" opacity="1"/>
<line x1="82.1" y1="482.9" x2="87.7" y2="482.9" stroke="#b05040" stroke-width="1.4" opacity="1"/>
<line x1="91.4" y1="431" x2="91.4" y2="519" stroke="#d8583a" stroke-width="1.3" opacity="1"/>
<line x1="88.6" y1="431" x2="94.2" y2="431" stroke="#b05040" stroke-width="1.4" opacity="1"/>
<line x1="88.6" y1="519" x2="94.2" y2="519" stroke="#b05040" stroke-width="1.4" opacity="1"/>
<line x1="95.7" y1="438.4" x2="101.3" y2="438.4" stroke="#b05040" stroke-width="1.4" opacity="1"/>
<line x1="126.8" y1="348" x2="126.8" y2="359.4" stroke="#d8583a" stroke-width="1.3" opacity="1"/>
<line x1="124" y1="348" x2="129.6" y2="348" stroke="#b05040" stroke-width="1.4" opacity="1"/>
<line x1="126.8" y1="351.6" x2="126.8" y2="386.5" stroke="#d8583a" stroke-width="1.3" opacity="1"/>
<line x1="124" y1="351.6" x2="129.6" y2="351.6" stroke="#b05040" stroke-width="1.4" opacity="1"/>
<line x1="124" y1="386.5" x2="129.6" y2="386.5" stroke="#b05040" stroke-width="1.4" opacity="1"/>
<line x1="126.6" y1="402.6" x2="126.6" y2="462" stroke="#d8583a" stroke-width="1.3" opacity="1"/>
<line x1="123.8" y1="402.6" x2="129.4" y2="402.6" stroke="#b05040" stroke-width="1.4" opacity="1"/>
<line x1="123.8" y1="462" x2="129.4" y2="462" stroke="#b05040" stroke-width="1.4" opacity="1"/>
<line x1="132.8" y1="360" x2="132.8" y2="397.4" stroke="#d8583a" stroke-width="1.3" opacity="1"/>
<line x1="130" y1="360" x2="135.6" y2="360" stroke="#b05040" stroke-width="1.4" opacity="1"/>
<line x1="130" y1="397.4" x2="135.6" y2="397.4" stroke="#b05040" stroke-width="1.4" opacity="1"/>
<line x1="134.4" y1="367.1" x2="134.4" y2="404.7" stroke="#d8583a" stroke-width="1.3" opacity="1"/>
<line x1="131.6" y1="367.1" x2="137.2" y2="367.1" stroke="#b05040" stroke-width="1.4" opacity="1"/>
<line x1="131.6" y1="404.7" x2="137.2" y2="404.7" stroke="#b05040" stroke-width="1.4" opacity="1"/>
<line x1="140.8" y1="374.6" x2="140.8" y2="417.4" stroke="#d8583a" stroke-width="1.3" opacity="1"/>
<line x1="138" y1="374.6" x2="143.6" y2="374.6" stroke="#b05040" stroke-width="1.4" opacity="1"/>
<line x1="138" y1="417.4" x2="143.6" y2="417.4" stroke="#b05040" stroke-width="1.4" opacity="1"/>
<line x1="148" y1="381.5" x2="148" y2="422.7" stroke="#d8583a" stroke-width="1.3" opacity="1"/>
<line x1="145.2" y1="381.5" x2="150.8" y2="381.5" stroke="#b05040" stroke-width="1.4" opacity="1"/>
<line x1="145.2" y1="422.7" x2="150.8" y2="422.7" stroke="#b05040" stroke-width="1.4" opacity="1"/>
<line x1="152.7" y1="369.8" x2="158.3" y2="369.8" stroke="#b05040" stroke-width="1.4" opacity="1"/>
<line x1="211.2" y1="342.4" x2="211.2" y2="432.6" stroke="#d8583a" stroke-width="1.3" opacity="1"/>
<line x1="208.4" y1="342.4" x2="214" y2="342.4" stroke="#b05040" stroke-width="1.4" opacity="1"/>
<line x1="208.4" y1="432.6" x2="214" y2="432.6" stroke="#b05040" stroke-width="1.4" opacity="1"/>
<line x1="216.5" y1="339.5" x2="216.5" y2="430" stroke="#d8583a" stroke-width="1.3" opacity="1"/>
<line x1="213.7" y1="339.5" x2="219.3" y2="339.5" stroke="#b05040" stroke-width="1.4" opacity="1"/>
<line x1="213.7" y1="430" x2="219.3" y2="430" stroke="#b05040" stroke-width="1.4" opacity="1"/>
<line x1="225.8" y1="393" x2="225.8" y2="407" stroke="#d8583a" stroke-width="1.3" opacity="1"/>
<line x1="223" y1="407" x2="228.6" y2="407" stroke="#b05040" stroke-width="1.4" opacity="1"/>
<line x1="232.7" y1="368.2" x2="232.7" y2="425.2" stroke="#d8583a" stroke-width="1.3" opacity="1"/>
<line x1="229.9" y1="368.2" x2="235.5" y2="368.2" stroke="#b05040" stroke-width="1.4" opacity="1"/>
<line x1="229.9" y1="425.2" x2="235.5" y2="425.2" stroke="#b05040" stroke-width="1.4" opacity="1"/>
<line x1="239.7" y1="375.1" x2="239.7" y2="418.5" stroke="#d8583a" stroke-width="1.3" opacity="1"/>
<line x1="236.9" y1="375.1" x2="242.5" y2="375.1" stroke="#b05040" stroke-width="1.4" opacity="1"/>
<line x1="236.9" y1="418.5" x2="242.5" y2="418.5" stroke="#b05040" stroke-width="1.4" opacity="1"/>
<line x1="281.6" y1="370.3" x2="281.6" y2="450.3" stroke="#d8583a" stroke-width="1.3" opacity="1"/>
<line x1="278.8" y1="370.3" x2="284.4" y2="370.3" stroke="#b05040" stroke-width="1.4" opacity="1"/>
<line x1="278.8" y1="450.3" x2="284.4" y2="450.3" stroke="#b05040" stroke-width="1.4" opacity="1"/>
<line x1="311.8" y1="382.4" x2="311.8" y2="459.1" stroke="#d8583a" stroke-width="1.3" opacity="1"/>
<line x1="309" y1="382.4" x2="314.6" y2="382.4" stroke="#b05040" stroke-width="1.4" opacity="1"/>
<line x1="309" y1="459.1" x2="314.6" y2="459.1" stroke="#b05040" stroke-width="1.4" opacity="1"/>
<line x1="342" y1="408.7" x2="342" y2="509.6" stroke="#d8583a" stroke-width="1.3" opacity="1"/>
<line x1="339.2" y1="408.7" x2="344.8" y2="408.7" stroke="#b05040" stroke-width="1.4" opacity="1"/>
<line x1="339.2" y1="509.6" x2="344.8" y2="509.6" stroke="#b05040" stroke-width="1.4" opacity="1"/>
<line x1="429.8" y1="452.3" x2="435.4" y2="452.3" stroke="#b05040" stroke-width="1.4" opacity="1"/>
<path d="M70.3 382 L71.3 392 L73.3 432.6 L76 502.3 L77.5 530 L84.9 529.3 M126.6 439 L126.8 371 L128.5 376 L130.5 382 L134.4 388 L140.8 395.5 L148 399 L155.5 402.6 L211.2 394.7 L211.4 362.4 L214 366 L216 370 L218 374 L225.8 376.6 L232.7 382.5 L239.7 390.6 L281.6 390.5 L311.8 411.5 L342 432.9 L432.6 467.2" fill="none" stroke="#3a5e3a" stroke-width="1.0"/>
<path d="M70.3 379.48 L72.82 382 L70.3 384.52 L67.78 382 Z" fill="#fff" stroke="#2a5e2a" stroke-width="1.2"/>
<path d="M71.3 389.48 L73.82 392 L71.3 394.52 L68.78 392 Z" fill="#fff" stroke="#2a5e2a" stroke-width="1.2"/>
<path d="M73.3 430.08 L75.82 432.6 L73.3 435.12 L70.78 432.6 Z" fill="#fff" stroke="#2a5e2a" stroke-width="1.2"/>
<path d="M76 499.78 L78.52 502.3 L76 504.82 L73.48 502.3 Z" fill="#fff" stroke="#2a5e2a" stroke-width="1.2"/>
<path d="M77.5 527.48 L80.02 530 L77.5 532.52 L74.98 530 Z" fill="#fff" stroke="#2a5e2a" stroke-width="1.2"/>
<path d="M84.9 526.78 L87.42 529.3 L84.9 531.82 L82.38 529.3 Z" fill="#fff" stroke="#2a5e2a" stroke-width="1.2"/>
<path d="M126.6 436.48 L129.12 439 L126.6 441.52 L124.08 439 Z" fill="#fff" stroke="#2a5e2a" stroke-width="1.2"/>
<path d="M126.8 368.48 L129.32 371 L126.8 373.52 L124.28 371 Z" fill="#fff" stroke="#2a5e2a" stroke-width="1.2"/>
<path d="M128.5 373.48 L131.02 376 L128.5 378.52 L125.98 376 Z" fill="#fff" stroke="#2a5e2a" stroke-width="1.2"/>
<path d="M130.5 379.48 L133.02 382 L130.5 384.52 L127.98 382 Z" fill="#fff" stroke="#2a5e2a" stroke-width="1.2"/>
<path d="M134.4 385.48 L136.92 388 L134.4 390.52 L131.88 388 Z" fill="#fff" stroke="#2a5e2a" stroke-width="1.2"/>
<path d="M140.8 392.98 L143.32 395.5 L140.8 398.02 L138.28 395.5 Z" fill="#fff" stroke="#2a5e2a" stroke-width="1.2"/>
<path d="M148 396.48 L150.52 399 L148 401.52 L145.48 399 Z" fill="#fff" stroke="#2a5e2a" stroke-width="1.2"/>
<path d="M155.5 400.08 L158.02 402.6 L155.5 405.12 L152.98 402.6 Z" fill="#fff" stroke="#2a5e2a" stroke-width="1.2"/>
<path d="M211.2 392.18 L213.72 394.7 L211.2 397.22 L208.68 394.7 Z" fill="#fff" stroke="#2a5e2a" stroke-width="1.2"/>
<path d="M211.4 359.88 L213.92 362.4 L211.4 364.92 L208.88 362.4 Z" fill="#fff" stroke="#2a5e2a" stroke-width="1.2"/>
<path d="M214 363.48 L216.52 366 L214 368.52 L211.48 366 Z" fill="#fff" stroke="#2a5e2a" stroke-width="1.2"/>
<path d="M216 367.48 L218.52 370 L216 372.52 L213.48 370 Z" fill="#fff" stroke="#2a5e2a" stroke-width="1.2"/>
<path d="M218 371.48 L220.52 374 L218 376.52 L215.48 374 Z" fill="#fff" stroke="#2a5e2a" stroke-width="1.2"/>
<path d="M225.8 374.08 L228.32 376.6 L225.8 379.12 L223.28 376.6 Z" fill="#fff" stroke="#2a5e2a" stroke-width="1.2"/>
<path d="M232.7 379.98 L235.22 382.5 L232.7 385.02 L230.18 382.5 Z" fill="#fff" stroke="#2a5e2a" stroke-width="1.2"/>
<path d="M239.7 388.08 L242.22 390.6 L239.7 393.12 L237.18 390.6 Z" fill="#fff" stroke="#2a5e2a" stroke-width="1.2"/>
<path d="M281.6 387.98 L284.12 390.5 L281.6 393.02 L279.08 390.5 Z" fill="#fff" stroke="#2a5e2a" stroke-width="1.2"/>
<path d="M311.8 408.98 L314.32 411.5 L311.8 414.02 L309.28 411.5 Z" fill="#fff" stroke="#2a5e2a" stroke-width="1.2"/>
<path d="M342 430.38 L344.52 432.9 L342 435.42 L339.48 432.9 Z" fill="#fff" stroke="#2a5e2a" stroke-width="1.2"/>
<path d="M432.6 464.68 L435.12 467.2 L432.6 469.72 L430.08 467.2 Z" fill="#fff" stroke="#2a5e2a" stroke-width="1.2"/>
<path d="M70.3 366 L71.3 376 L72.3 386 L74 400 L77.5 437.8 L84.9 468.4 L92.1 493.2 L99.2 502.3 L126.6 444.7 L126.8 364 L128.5 372 L130.5 378 L134.4 386.6 L140.8 400.8 L148 413.7 L155.5 418.1 L211.2 400.7 L211.4 348 L213 356 L215 363.7 L217 370 L225.8 376.6 L232.7 390.2 L239.7 393.4 L281.6 403.4 L311.8 422.8 L342 435.7 L432.6 504.8" fill="none" stroke="#c468d0" stroke-width="1.0"/>
<rect x="68.6" y="364.3" width="3.4" height="3.4" fill="#f08cf0" stroke="#dd55dd" stroke-width="1.1"/>
<rect x="69.6" y="374.3" width="3.4" height="3.4" fill="#f08cf0" stroke="#dd55dd" stroke-width="1.1"/>
<rect x="70.6" y="384.3" width="3.4" height="3.4" fill="#f08cf0" stroke="#dd55dd" stroke-width="1.1"/>
<rect x="72.3" y="398.3" width="3.4" height="3.4" fill="#f08cf0" stroke="#dd55dd" stroke-width="1.1"/>
<rect x="75.8" y="436.1" width="3.4" height="3.4" fill="#f08cf0" stroke="#dd55dd" stroke-width="1.1"/>
<rect x="83.2" y="466.7" width="3.4" height="3.4" fill="#f08cf0" stroke="#dd55dd" stroke-width="1.1"/>
<rect x="90.4" y="491.5" width="3.4" height="3.4" fill="#f08cf0" stroke="#dd55dd" stroke-width="1.1"/>
<rect x="97.5" y="500.6" width="3.4" height="3.4" fill="#f08cf0" stroke="#dd55dd" stroke-width="1.1"/>
<rect x="124.9" y="443" width="3.4" height="3.4" fill="#f08cf0" stroke="#dd55dd" stroke-width="1.1"/>
<rect x="125.1" y="362.3" width="3.4" height="3.4" fill="#f08cf0" stroke="#dd55dd" stroke-width="1.1"/>
<rect x="126.8" y="370.3" width="3.4" height="3.4" fill="#f08cf0" stroke="#dd55dd" stroke-width="1.1"/>
<rect x="128.8" y="376.3" width="3.4" height="3.4" fill="#f08cf0" stroke="#dd55dd" stroke-width="1.1"/>
<rect x="132.7" y="384.9" width="3.4" height="3.4" fill="#f08cf0" stroke="#dd55dd" stroke-width="1.1"/>
<rect x="139.1" y="399.1" width="3.4" height="3.4" fill="#f08cf0" stroke="#dd55dd" stroke-width="1.1"/>
<rect x="146.3" y="412" width="3.4" height="3.4" fill="#f08cf0" stroke="#dd55dd" stroke-width="1.1"/>
<rect x="153.8" y="416.4" width="3.4" height="3.4" fill="#f08cf0" stroke="#dd55dd" stroke-width="1.1"/>
<rect x="209.5" y="399" width="3.4" height="3.4" fill="#f08cf0" stroke="#dd55dd" stroke-width="1.1"/>
<rect x="209.7" y="346.3" width="3.4" height="3.4" fill="#f08cf0" stroke="#dd55dd" stroke-width="1.1"/>
<rect x="211.3" y="354.3" width="3.4" height="3.4" fill="#f08cf0" stroke="#dd55dd" stroke-width="1.1"/>
<rect x="213.3" y="362" width="3.4" height="3.4" fill="#f08cf0" stroke="#dd55dd" stroke-width="1.1"/>
<rect x="215.3" y="368.3" width="3.4" height="3.4" fill="#f08cf0" stroke="#dd55dd" stroke-width="1.1"/>
<rect x="224.1" y="374.9" width="3.4" height="3.4" fill="#f08cf0" stroke="#dd55dd" stroke-width="1.1"/>
<rect x="231" y="388.5" width="3.4" height="3.4" fill="#f08cf0" stroke="#dd55dd" stroke-width="1.1"/>
<rect x="238" y="391.7" width="3.4" height="3.4" fill="#f08cf0" stroke="#dd55dd" stroke-width="1.1"/>
<rect x="279.9" y="401.7" width="3.4" height="3.4" fill="#f08cf0" stroke="#dd55dd" stroke-width="1.1"/>
<rect x="310.1" y="421.1" width="3.4" height="3.4" fill="#f08cf0" stroke="#dd55dd" stroke-width="1.1"/>
<rect x="340.3" y="434" width="3.4" height="3.4" fill="#f08cf0" stroke="#dd55dd" stroke-width="1.1"/>
<rect x="430.9" y="503.1" width="3.4" height="3.4" fill="#f08cf0" stroke="#dd55dd" stroke-width="1.1"/>
<path d="M70.3 370 L71.3 378 L72.3 387 L73.3 396 L74.5 405 L77.5 418 L84.9 437 L91.4 450 L98.5 460.3 L126.6 419.6 L126.8 359.4 L128.5 366 L130.5 372 L132.5 378 L134.4 380.2 L140.8 389.7 L148 396.2 L155.5 393.8 L211.2 391.3 L211.4 352 L212.5 355 L214 359 L216.5 369.5 L218 374 L225.8 393 L232.7 385 L239.7 390.6 L281.6 389.7 L311.8 401.4 L342 427.6 L432.6 474.5" fill="none" stroke="#cc4a2e" stroke-width="1.0"/>
<circle cx="70.3" cy="370" r="1.8" fill="#f06a48" stroke="#e0321e" stroke-width="1.1"/>
<circle cx="71.3" cy="378" r="1.8" fill="#f06a48" stroke="#e0321e" stroke-width="1.1"/>
<circle cx="72.3" cy="387" r="1.8" fill="#f06a48" stroke="#e0321e" stroke-width="1.1"/>
<circle cx="73.3" cy="396" r="1.8" fill="#f06a48" stroke="#e0321e" stroke-width="1.1"/>
<circle cx="74.5" cy="405" r="1.8" fill="#f06a48" stroke="#e0321e" stroke-width="1.1"/>
<circle cx="77.5" cy="418" r="1.8" fill="#f06a48" stroke="#e0321e" stroke-width="1.1"/>
<circle cx="84.9" cy="437" r="1.8" fill="#f06a48" stroke="#e0321e" stroke-width="1.1"/>
<circle cx="91.4" cy="450" r="1.8" fill="#f06a48" stroke="#e0321e" stroke-width="1.1"/>
<circle cx="98.5" cy="460.3" r="1.8" fill="#f06a48" stroke="#e0321e" stroke-width="1.1"/>
<circle cx="126.6" cy="419.6" r="1.8" fill="#f06a48" stroke="#e0321e" stroke-width="1.1"/>
<circle cx="126.8" cy="359.4" r="1.8" fill="#f06a48" stroke="#e0321e" stroke-width="1.1"/>
<circle cx="128.5" cy="366" r="1.8" fill="#f06a48" stroke="#e0321e" stroke-width="1.1"/>
<circle cx="130.5" cy="372" r="1.8" fill="#f06a48" stroke="#e0321e" stroke-width="1.1"/>
<circle cx="132.5" cy="378" r="1.8" fill="#f06a48" stroke="#e0321e" stroke-width="1.1"/>
<circle cx="134.4" cy="380.2" r="1.8" fill="#f06a48" stroke="#e0321e" stroke-width="1.1"/>
<circle cx="140.8" cy="389.7" r="1.8" fill="#f06a48" stroke="#e0321e" stroke-width="1.1"/>
<circle cx="148" cy="396.2" r="1.8" fill="#f06a48" stroke="#e0321e" stroke-width="1.1"/>
<circle cx="155.5" cy="393.8" r="1.8" fill="#f06a48" stroke="#e0321e" stroke-width="1.1"/>
<circle cx="211.2" cy="391.3" r="1.8" fill="#f06a48" stroke="#e0321e" stroke-width="1.1"/>
<circle cx="211.4" cy="352" r="1.8" fill="#f06a48" stroke="#e0321e" stroke-width="1.1"/>
<circle cx="212.5" cy="355" r="1.8" fill="#f06a48" stroke="#e0321e" stroke-width="1.1"/>
<circle cx="214" cy="359" r="1.8" fill="#f06a48" stroke="#e0321e" stroke-width="1.1"/>
<circle cx="216.5" cy="369.5" r="1.8" fill="#f06a48" stroke="#e0321e" stroke-width="1.1"/>
<circle cx="218" cy="374" r="1.8" fill="#f06a48" stroke="#e0321e" stroke-width="1.1"/>
<circle cx="225.8" cy="393" r="1.8" fill="#f06a48" stroke="#e0321e" stroke-width="1.1"/>
<circle cx="232.7" cy="385" r="1.8" fill="#f06a48" stroke="#e0321e" stroke-width="1.1"/>
<circle cx="239.7" cy="390.6" r="1.8" fill="#f06a48" stroke="#e0321e" stroke-width="1.1"/>
<circle cx="281.6" cy="389.7" r="1.8" fill="#f06a48" stroke="#e0321e" stroke-width="1.1"/>
<circle cx="311.8" cy="401.4" r="1.8" fill="#f06a48" stroke="#e0321e" stroke-width="1.1"/>
<circle cx="342" cy="427.6" r="1.8" fill="#f06a48" stroke="#e0321e" stroke-width="1.1"/>
<circle cx="432.6" cy="474.5" r="1.8" fill="#f06a48" stroke="#e0321e" stroke-width="1.1"/>
<line x1="448.2" y1="424.3" x2="469.5" y2="424.3" stroke="#b81a10" stroke-width="1.8"/>
<circle cx="459.15" cy="424.3" r="4.18" fill="none" stroke="#e81808" stroke-width="2.2"/>
<text x="475.5" y="428.18" font-size="10" font-weight="bold" textLength="10.8" lengthAdjust="spacingAndGlyphs">FF</text>
<line x1="448.2" y1="442.2" x2="469.5" y2="442.2" stroke="#a85a4a" stroke-width="1.6"/>
<line x1="453.85" y1="442.2" x2="464.15" y2="442.2" stroke="#e83818" stroke-width="3"/>
<text x="475.5" y="446.08" font-size="10" font-weight="bold" textLength="38" lengthAdjust="spacingAndGlyphs">FF Error</text>
<line x1="448.2" y1="460.1" x2="469.5" y2="460.1" stroke="#c040c0" stroke-width="1.8"/>
<rect x="455.19" y="456.14" width="7.92" height="7.92" fill="none" stroke="#e020e0" stroke-width="2"/>
<text x="475.5" y="463.98" font-size="10" font-weight="bold" textLength="12.6" lengthAdjust="spacingAndGlyphs">FV</text>
<line x1="448.2" y1="478" x2="469.5" y2="478" stroke="#c060c0" stroke-width="1.5"/>
<line x1="453.85" y1="478" x2="464.15" y2="478" stroke="#d030d0" stroke-width="2.6"/>
<text x="475.5" y="481.88" font-size="10" font-weight="bold" textLength="39" lengthAdjust="spacingAndGlyphs">FV Error</text>
<line x1="448.2" y1="495.9" x2="469.5" y2="495.9" stroke="#2a5a2a" stroke-width="1.8"/>
<path d="M459.15 489.52 L464.65 495.9 L459.15 502.28 L453.65 495.9 Z" fill="none" stroke="#1a6a1a" stroke-width="2"/>
<text x="475.5" y="499.78" font-size="10" font-weight="bold" textLength="13.3" lengthAdjust="spacingAndGlyphs">VV</text>
<line x1="448.2" y1="513.8" x2="469.5" y2="513.8" stroke="#3a6a3a" stroke-width="1.3"/>
<text x="475.5" y="517.68" font-size="10" font-weight="bold" textLength="39.8" lengthAdjust="spacingAndGlyphs">VV Error</text>
</svg></body></html>
